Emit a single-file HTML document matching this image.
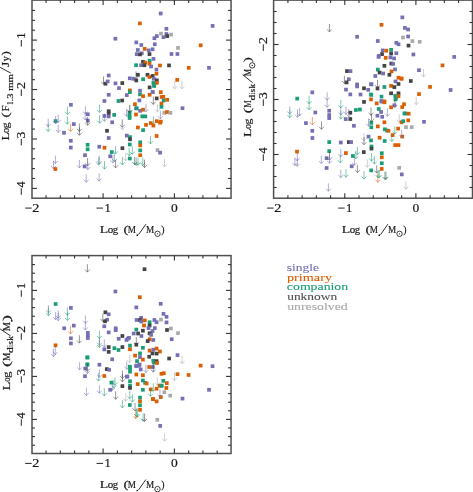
<!DOCTYPE html>
<html><head><meta charset="utf-8"><style>html,body{margin:0;padding:0;background:#fff;width:473px;height:492px;overflow:hidden}svg{display:block;will-change:transform}</style></head>
<body><svg width="473" height="492" viewBox="0 0 473 492" font-family="Liberation Serif"><rect x="32" y="0.1" width="199.05" height="198.10" fill="none" stroke="#505050" stroke-width="1.5"/><line x1="46.06" y1="198.20" x2="46.06" y2="195.20" stroke="#333" stroke-width="1.1"/><line x1="46.06" y1="0.10" x2="46.06" y2="3.10" stroke="#333" stroke-width="1.1"/><line x1="60.32" y1="198.20" x2="60.32" y2="195.20" stroke="#333" stroke-width="1.1"/><line x1="60.32" y1="0.10" x2="60.32" y2="3.10" stroke="#333" stroke-width="1.1"/><line x1="74.58" y1="198.20" x2="74.58" y2="195.20" stroke="#333" stroke-width="1.1"/><line x1="74.58" y1="0.10" x2="74.58" y2="3.10" stroke="#333" stroke-width="1.1"/><line x1="88.84" y1="198.20" x2="88.84" y2="195.20" stroke="#333" stroke-width="1.1"/><line x1="88.84" y1="0.10" x2="88.84" y2="3.10" stroke="#333" stroke-width="1.1"/><line x1="103.10" y1="198.20" x2="103.10" y2="193.20" stroke="#333" stroke-width="1.1"/><line x1="103.10" y1="0.10" x2="103.10" y2="5.10" stroke="#333" stroke-width="1.1"/><line x1="117.36" y1="198.20" x2="117.36" y2="195.20" stroke="#333" stroke-width="1.1"/><line x1="117.36" y1="0.10" x2="117.36" y2="3.10" stroke="#333" stroke-width="1.1"/><line x1="131.62" y1="198.20" x2="131.62" y2="195.20" stroke="#333" stroke-width="1.1"/><line x1="131.62" y1="0.10" x2="131.62" y2="3.10" stroke="#333" stroke-width="1.1"/><line x1="145.88" y1="198.20" x2="145.88" y2="195.20" stroke="#333" stroke-width="1.1"/><line x1="145.88" y1="0.10" x2="145.88" y2="3.10" stroke="#333" stroke-width="1.1"/><line x1="160.14" y1="198.20" x2="160.14" y2="195.20" stroke="#333" stroke-width="1.1"/><line x1="160.14" y1="0.10" x2="160.14" y2="3.10" stroke="#333" stroke-width="1.1"/><line x1="174.40" y1="198.20" x2="174.40" y2="193.20" stroke="#333" stroke-width="1.1"/><line x1="174.40" y1="0.10" x2="174.40" y2="5.10" stroke="#333" stroke-width="1.1"/><line x1="188.66" y1="198.20" x2="188.66" y2="195.20" stroke="#333" stroke-width="1.1"/><line x1="188.66" y1="0.10" x2="188.66" y2="3.10" stroke="#333" stroke-width="1.1"/><line x1="202.92" y1="198.20" x2="202.92" y2="195.20" stroke="#333" stroke-width="1.1"/><line x1="202.92" y1="0.10" x2="202.92" y2="3.10" stroke="#333" stroke-width="1.1"/><line x1="217.18" y1="198.20" x2="217.18" y2="195.20" stroke="#333" stroke-width="1.1"/><line x1="217.18" y1="0.10" x2="217.18" y2="3.10" stroke="#333" stroke-width="1.1"/><line x1="32.00" y1="188.39" x2="37.00" y2="188.39" stroke="#333" stroke-width="1.1"/><line x1="231.05" y1="188.39" x2="226.05" y2="188.39" stroke="#333" stroke-width="1.1"/><line x1="32.00" y1="178.50" x2="35.00" y2="178.50" stroke="#333" stroke-width="1.1"/><line x1="231.05" y1="178.50" x2="228.05" y2="178.50" stroke="#333" stroke-width="1.1"/><line x1="32.00" y1="168.62" x2="35.00" y2="168.62" stroke="#333" stroke-width="1.1"/><line x1="231.05" y1="168.62" x2="228.05" y2="168.62" stroke="#333" stroke-width="1.1"/><line x1="32.00" y1="158.73" x2="35.00" y2="158.73" stroke="#333" stroke-width="1.1"/><line x1="231.05" y1="158.73" x2="228.05" y2="158.73" stroke="#333" stroke-width="1.1"/><line x1="32.00" y1="148.85" x2="35.00" y2="148.85" stroke="#333" stroke-width="1.1"/><line x1="231.05" y1="148.85" x2="228.05" y2="148.85" stroke="#333" stroke-width="1.1"/><line x1="32.00" y1="138.96" x2="37.00" y2="138.96" stroke="#333" stroke-width="1.1"/><line x1="231.05" y1="138.96" x2="226.05" y2="138.96" stroke="#333" stroke-width="1.1"/><line x1="32.00" y1="129.07" x2="35.00" y2="129.07" stroke="#333" stroke-width="1.1"/><line x1="231.05" y1="129.07" x2="228.05" y2="129.07" stroke="#333" stroke-width="1.1"/><line x1="32.00" y1="119.19" x2="35.00" y2="119.19" stroke="#333" stroke-width="1.1"/><line x1="231.05" y1="119.19" x2="228.05" y2="119.19" stroke="#333" stroke-width="1.1"/><line x1="32.00" y1="109.30" x2="35.00" y2="109.30" stroke="#333" stroke-width="1.1"/><line x1="231.05" y1="109.30" x2="228.05" y2="109.30" stroke="#333" stroke-width="1.1"/><line x1="32.00" y1="99.42" x2="35.00" y2="99.42" stroke="#333" stroke-width="1.1"/><line x1="231.05" y1="99.42" x2="228.05" y2="99.42" stroke="#333" stroke-width="1.1"/><line x1="32.00" y1="89.53" x2="37.00" y2="89.53" stroke="#333" stroke-width="1.1"/><line x1="231.05" y1="89.53" x2="226.05" y2="89.53" stroke="#333" stroke-width="1.1"/><line x1="32.00" y1="79.64" x2="35.00" y2="79.64" stroke="#333" stroke-width="1.1"/><line x1="231.05" y1="79.64" x2="228.05" y2="79.64" stroke="#333" stroke-width="1.1"/><line x1="32.00" y1="69.76" x2="35.00" y2="69.76" stroke="#333" stroke-width="1.1"/><line x1="231.05" y1="69.76" x2="228.05" y2="69.76" stroke="#333" stroke-width="1.1"/><line x1="32.00" y1="59.87" x2="35.00" y2="59.87" stroke="#333" stroke-width="1.1"/><line x1="231.05" y1="59.87" x2="228.05" y2="59.87" stroke="#333" stroke-width="1.1"/><line x1="32.00" y1="49.99" x2="35.00" y2="49.99" stroke="#333" stroke-width="1.1"/><line x1="231.05" y1="49.99" x2="228.05" y2="49.99" stroke="#333" stroke-width="1.1"/><line x1="32.00" y1="40.10" x2="37.00" y2="40.10" stroke="#333" stroke-width="1.1"/><line x1="231.05" y1="40.10" x2="226.05" y2="40.10" stroke="#333" stroke-width="1.1"/><line x1="32.00" y1="30.21" x2="35.00" y2="30.21" stroke="#333" stroke-width="1.1"/><line x1="231.05" y1="30.21" x2="228.05" y2="30.21" stroke="#333" stroke-width="1.1"/><line x1="32.00" y1="20.33" x2="35.00" y2="20.33" stroke="#333" stroke-width="1.1"/><line x1="231.05" y1="20.33" x2="228.05" y2="20.33" stroke="#333" stroke-width="1.1"/><line x1="32.00" y1="10.44" x2="35.00" y2="10.44" stroke="#333" stroke-width="1.1"/><line x1="231.05" y1="10.44" x2="228.05" y2="10.44" stroke="#333" stroke-width="1.1"/><rect x="273.6" y="0.1" width="198.90" height="198.10" fill="none" stroke="#505050" stroke-width="1.5"/><line x1="287.92" y1="198.20" x2="287.92" y2="195.20" stroke="#333" stroke-width="1.1"/><line x1="287.92" y1="0.10" x2="287.92" y2="3.10" stroke="#333" stroke-width="1.1"/><line x1="302.14" y1="198.20" x2="302.14" y2="195.20" stroke="#333" stroke-width="1.1"/><line x1="302.14" y1="0.10" x2="302.14" y2="3.10" stroke="#333" stroke-width="1.1"/><line x1="316.36" y1="198.20" x2="316.36" y2="195.20" stroke="#333" stroke-width="1.1"/><line x1="316.36" y1="0.10" x2="316.36" y2="3.10" stroke="#333" stroke-width="1.1"/><line x1="330.58" y1="198.20" x2="330.58" y2="195.20" stroke="#333" stroke-width="1.1"/><line x1="330.58" y1="0.10" x2="330.58" y2="3.10" stroke="#333" stroke-width="1.1"/><line x1="344.80" y1="198.20" x2="344.80" y2="193.20" stroke="#333" stroke-width="1.1"/><line x1="344.80" y1="0.10" x2="344.80" y2="5.10" stroke="#333" stroke-width="1.1"/><line x1="359.02" y1="198.20" x2="359.02" y2="195.20" stroke="#333" stroke-width="1.1"/><line x1="359.02" y1="0.10" x2="359.02" y2="3.10" stroke="#333" stroke-width="1.1"/><line x1="373.24" y1="198.20" x2="373.24" y2="195.20" stroke="#333" stroke-width="1.1"/><line x1="373.24" y1="0.10" x2="373.24" y2="3.10" stroke="#333" stroke-width="1.1"/><line x1="387.46" y1="198.20" x2="387.46" y2="195.20" stroke="#333" stroke-width="1.1"/><line x1="387.46" y1="0.10" x2="387.46" y2="3.10" stroke="#333" stroke-width="1.1"/><line x1="401.68" y1="198.20" x2="401.68" y2="195.20" stroke="#333" stroke-width="1.1"/><line x1="401.68" y1="0.10" x2="401.68" y2="3.10" stroke="#333" stroke-width="1.1"/><line x1="415.90" y1="198.20" x2="415.90" y2="193.20" stroke="#333" stroke-width="1.1"/><line x1="415.90" y1="0.10" x2="415.90" y2="5.10" stroke="#333" stroke-width="1.1"/><line x1="430.12" y1="198.20" x2="430.12" y2="195.20" stroke="#333" stroke-width="1.1"/><line x1="430.12" y1="0.10" x2="430.12" y2="3.10" stroke="#333" stroke-width="1.1"/><line x1="444.34" y1="198.20" x2="444.34" y2="195.20" stroke="#333" stroke-width="1.1"/><line x1="444.34" y1="0.10" x2="444.34" y2="3.10" stroke="#333" stroke-width="1.1"/><line x1="458.56" y1="198.20" x2="458.56" y2="195.20" stroke="#333" stroke-width="1.1"/><line x1="458.56" y1="0.10" x2="458.56" y2="3.10" stroke="#333" stroke-width="1.1"/><line x1="273.60" y1="187.50" x2="276.60" y2="187.50" stroke="#333" stroke-width="1.1"/><line x1="472.50" y1="187.50" x2="469.50" y2="187.50" stroke="#333" stroke-width="1.1"/><line x1="273.60" y1="176.50" x2="276.60" y2="176.50" stroke="#333" stroke-width="1.1"/><line x1="472.50" y1="176.50" x2="469.50" y2="176.50" stroke="#333" stroke-width="1.1"/><line x1="273.60" y1="165.50" x2="276.60" y2="165.50" stroke="#333" stroke-width="1.1"/><line x1="472.50" y1="165.50" x2="469.50" y2="165.50" stroke="#333" stroke-width="1.1"/><line x1="273.60" y1="154.50" x2="278.60" y2="154.50" stroke="#333" stroke-width="1.1"/><line x1="472.50" y1="154.50" x2="467.50" y2="154.50" stroke="#333" stroke-width="1.1"/><line x1="273.60" y1="143.50" x2="276.60" y2="143.50" stroke="#333" stroke-width="1.1"/><line x1="472.50" y1="143.50" x2="469.50" y2="143.50" stroke="#333" stroke-width="1.1"/><line x1="273.60" y1="132.50" x2="276.60" y2="132.50" stroke="#333" stroke-width="1.1"/><line x1="472.50" y1="132.50" x2="469.50" y2="132.50" stroke="#333" stroke-width="1.1"/><line x1="273.60" y1="121.50" x2="276.60" y2="121.50" stroke="#333" stroke-width="1.1"/><line x1="472.50" y1="121.50" x2="469.50" y2="121.50" stroke="#333" stroke-width="1.1"/><line x1="273.60" y1="110.50" x2="276.60" y2="110.50" stroke="#333" stroke-width="1.1"/><line x1="472.50" y1="110.50" x2="469.50" y2="110.50" stroke="#333" stroke-width="1.1"/><line x1="273.60" y1="99.50" x2="278.60" y2="99.50" stroke="#333" stroke-width="1.1"/><line x1="472.50" y1="99.50" x2="467.50" y2="99.50" stroke="#333" stroke-width="1.1"/><line x1="273.60" y1="88.50" x2="276.60" y2="88.50" stroke="#333" stroke-width="1.1"/><line x1="472.50" y1="88.50" x2="469.50" y2="88.50" stroke="#333" stroke-width="1.1"/><line x1="273.60" y1="77.50" x2="276.60" y2="77.50" stroke="#333" stroke-width="1.1"/><line x1="472.50" y1="77.50" x2="469.50" y2="77.50" stroke="#333" stroke-width="1.1"/><line x1="273.60" y1="66.50" x2="276.60" y2="66.50" stroke="#333" stroke-width="1.1"/><line x1="472.50" y1="66.50" x2="469.50" y2="66.50" stroke="#333" stroke-width="1.1"/><line x1="273.60" y1="55.50" x2="276.60" y2="55.50" stroke="#333" stroke-width="1.1"/><line x1="472.50" y1="55.50" x2="469.50" y2="55.50" stroke="#333" stroke-width="1.1"/><line x1="273.60" y1="44.50" x2="278.60" y2="44.50" stroke="#333" stroke-width="1.1"/><line x1="472.50" y1="44.50" x2="467.50" y2="44.50" stroke="#333" stroke-width="1.1"/><line x1="273.60" y1="33.50" x2="276.60" y2="33.50" stroke="#333" stroke-width="1.1"/><line x1="472.50" y1="33.50" x2="469.50" y2="33.50" stroke="#333" stroke-width="1.1"/><line x1="273.60" y1="22.50" x2="276.60" y2="22.50" stroke="#333" stroke-width="1.1"/><line x1="472.50" y1="22.50" x2="469.50" y2="22.50" stroke="#333" stroke-width="1.1"/><line x1="273.60" y1="11.50" x2="276.60" y2="11.50" stroke="#333" stroke-width="1.1"/><line x1="472.50" y1="11.50" x2="469.50" y2="11.50" stroke="#333" stroke-width="1.1"/><rect x="32" y="255.6" width="199.05" height="197.90" fill="none" stroke="#505050" stroke-width="1.5"/><line x1="46.06" y1="453.50" x2="46.06" y2="450.50" stroke="#333" stroke-width="1.1"/><line x1="46.06" y1="255.60" x2="46.06" y2="258.60" stroke="#333" stroke-width="1.1"/><line x1="60.32" y1="453.50" x2="60.32" y2="450.50" stroke="#333" stroke-width="1.1"/><line x1="60.32" y1="255.60" x2="60.32" y2="258.60" stroke="#333" stroke-width="1.1"/><line x1="74.58" y1="453.50" x2="74.58" y2="450.50" stroke="#333" stroke-width="1.1"/><line x1="74.58" y1="255.60" x2="74.58" y2="258.60" stroke="#333" stroke-width="1.1"/><line x1="88.84" y1="453.50" x2="88.84" y2="450.50" stroke="#333" stroke-width="1.1"/><line x1="88.84" y1="255.60" x2="88.84" y2="258.60" stroke="#333" stroke-width="1.1"/><line x1="103.10" y1="453.50" x2="103.10" y2="448.50" stroke="#333" stroke-width="1.1"/><line x1="103.10" y1="255.60" x2="103.10" y2="260.60" stroke="#333" stroke-width="1.1"/><line x1="117.36" y1="453.50" x2="117.36" y2="450.50" stroke="#333" stroke-width="1.1"/><line x1="117.36" y1="255.60" x2="117.36" y2="258.60" stroke="#333" stroke-width="1.1"/><line x1="131.62" y1="453.50" x2="131.62" y2="450.50" stroke="#333" stroke-width="1.1"/><line x1="131.62" y1="255.60" x2="131.62" y2="258.60" stroke="#333" stroke-width="1.1"/><line x1="145.88" y1="453.50" x2="145.88" y2="450.50" stroke="#333" stroke-width="1.1"/><line x1="145.88" y1="255.60" x2="145.88" y2="258.60" stroke="#333" stroke-width="1.1"/><line x1="160.14" y1="453.50" x2="160.14" y2="450.50" stroke="#333" stroke-width="1.1"/><line x1="160.14" y1="255.60" x2="160.14" y2="258.60" stroke="#333" stroke-width="1.1"/><line x1="174.40" y1="453.50" x2="174.40" y2="448.50" stroke="#333" stroke-width="1.1"/><line x1="174.40" y1="255.60" x2="174.40" y2="260.60" stroke="#333" stroke-width="1.1"/><line x1="188.66" y1="453.50" x2="188.66" y2="450.50" stroke="#333" stroke-width="1.1"/><line x1="188.66" y1="255.60" x2="188.66" y2="258.60" stroke="#333" stroke-width="1.1"/><line x1="202.92" y1="453.50" x2="202.92" y2="450.50" stroke="#333" stroke-width="1.1"/><line x1="202.92" y1="255.60" x2="202.92" y2="258.60" stroke="#333" stroke-width="1.1"/><line x1="217.18" y1="453.50" x2="217.18" y2="450.50" stroke="#333" stroke-width="1.1"/><line x1="217.18" y1="255.60" x2="217.18" y2="258.60" stroke="#333" stroke-width="1.1"/><line x1="32.00" y1="445.20" x2="35.00" y2="445.20" stroke="#333" stroke-width="1.1"/><line x1="231.05" y1="445.20" x2="228.05" y2="445.20" stroke="#333" stroke-width="1.1"/><line x1="32.00" y1="436.60" x2="35.00" y2="436.60" stroke="#333" stroke-width="1.1"/><line x1="231.05" y1="436.60" x2="228.05" y2="436.60" stroke="#333" stroke-width="1.1"/><line x1="32.00" y1="428.00" x2="35.00" y2="428.00" stroke="#333" stroke-width="1.1"/><line x1="231.05" y1="428.00" x2="228.05" y2="428.00" stroke="#333" stroke-width="1.1"/><line x1="32.00" y1="419.40" x2="37.00" y2="419.40" stroke="#333" stroke-width="1.1"/><line x1="231.05" y1="419.40" x2="226.05" y2="419.40" stroke="#333" stroke-width="1.1"/><line x1="32.00" y1="410.80" x2="35.00" y2="410.80" stroke="#333" stroke-width="1.1"/><line x1="231.05" y1="410.80" x2="228.05" y2="410.80" stroke="#333" stroke-width="1.1"/><line x1="32.00" y1="402.20" x2="35.00" y2="402.20" stroke="#333" stroke-width="1.1"/><line x1="231.05" y1="402.20" x2="228.05" y2="402.20" stroke="#333" stroke-width="1.1"/><line x1="32.00" y1="393.60" x2="35.00" y2="393.60" stroke="#333" stroke-width="1.1"/><line x1="231.05" y1="393.60" x2="228.05" y2="393.60" stroke="#333" stroke-width="1.1"/><line x1="32.00" y1="385.00" x2="35.00" y2="385.00" stroke="#333" stroke-width="1.1"/><line x1="231.05" y1="385.00" x2="228.05" y2="385.00" stroke="#333" stroke-width="1.1"/><line x1="32.00" y1="376.40" x2="37.00" y2="376.40" stroke="#333" stroke-width="1.1"/><line x1="231.05" y1="376.40" x2="226.05" y2="376.40" stroke="#333" stroke-width="1.1"/><line x1="32.00" y1="367.80" x2="35.00" y2="367.80" stroke="#333" stroke-width="1.1"/><line x1="231.05" y1="367.80" x2="228.05" y2="367.80" stroke="#333" stroke-width="1.1"/><line x1="32.00" y1="359.20" x2="35.00" y2="359.20" stroke="#333" stroke-width="1.1"/><line x1="231.05" y1="359.20" x2="228.05" y2="359.20" stroke="#333" stroke-width="1.1"/><line x1="32.00" y1="350.60" x2="35.00" y2="350.60" stroke="#333" stroke-width="1.1"/><line x1="231.05" y1="350.60" x2="228.05" y2="350.60" stroke="#333" stroke-width="1.1"/><line x1="32.00" y1="342.00" x2="35.00" y2="342.00" stroke="#333" stroke-width="1.1"/><line x1="231.05" y1="342.00" x2="228.05" y2="342.00" stroke="#333" stroke-width="1.1"/><line x1="32.00" y1="333.40" x2="37.00" y2="333.40" stroke="#333" stroke-width="1.1"/><line x1="231.05" y1="333.40" x2="226.05" y2="333.40" stroke="#333" stroke-width="1.1"/><line x1="32.00" y1="324.80" x2="35.00" y2="324.80" stroke="#333" stroke-width="1.1"/><line x1="231.05" y1="324.80" x2="228.05" y2="324.80" stroke="#333" stroke-width="1.1"/><line x1="32.00" y1="316.20" x2="35.00" y2="316.20" stroke="#333" stroke-width="1.1"/><line x1="231.05" y1="316.20" x2="228.05" y2="316.20" stroke="#333" stroke-width="1.1"/><line x1="32.00" y1="307.60" x2="35.00" y2="307.60" stroke="#333" stroke-width="1.1"/><line x1="231.05" y1="307.60" x2="228.05" y2="307.60" stroke="#333" stroke-width="1.1"/><line x1="32.00" y1="299.00" x2="35.00" y2="299.00" stroke="#333" stroke-width="1.1"/><line x1="231.05" y1="299.00" x2="228.05" y2="299.00" stroke="#333" stroke-width="1.1"/><line x1="32.00" y1="290.40" x2="37.00" y2="290.40" stroke="#333" stroke-width="1.1"/><line x1="231.05" y1="290.40" x2="226.05" y2="290.40" stroke="#333" stroke-width="1.1"/><line x1="32.00" y1="281.80" x2="35.00" y2="281.80" stroke="#333" stroke-width="1.1"/><line x1="231.05" y1="281.80" x2="228.05" y2="281.80" stroke="#333" stroke-width="1.1"/><line x1="32.00" y1="273.20" x2="35.00" y2="273.20" stroke="#333" stroke-width="1.1"/><line x1="231.05" y1="273.20" x2="228.05" y2="273.20" stroke="#333" stroke-width="1.1"/><line x1="32.00" y1="264.60" x2="35.00" y2="264.60" stroke="#333" stroke-width="1.1"/><line x1="231.05" y1="264.60" x2="228.05" y2="264.60" stroke="#333" stroke-width="1.1"/><text transform="translate(99.70 232.90) scale(1.234 1.0)" font-size="11.2" fill="#1a1a1a" stroke="#1a1a1a" stroke-width="0.2">L</text><text transform="translate(107.68 232.90) scale(0.992 1.0)" font-size="11.2" fill="#1a1a1a" stroke="#1a1a1a" stroke-width="0.2">o</text><text transform="translate(112.74 232.90) scale(0.960 1.0)" font-size="11.2" fill="#1a1a1a" stroke="#1a1a1a" stroke-width="0.2">g</text><text transform="translate(123.55 232.90) scale(1.325 1.0)" font-size="11.2" fill="#1a1a1a" stroke="#1a1a1a" stroke-width="0.2">(</text><text transform="translate(127.83 232.90) scale(0.818 1.0)" font-size="11.2" fill="#1a1a1a" stroke="#1a1a1a" stroke-width="0.2">M</text><text transform="translate(146.03 232.90) scale(0.818 1.0)" font-size="11.2" fill="#1a1a1a" stroke="#1a1a1a" stroke-width="0.2">M</text><text transform="translate(161.19 232.90) scale(0.872 1.0)" font-size="11.2" fill="#1a1a1a" stroke="#1a1a1a" stroke-width="0.2">)</text><circle cx="137.3" cy="235.2" r="0.85" fill="#1a1a1a"/><line x1="138.60" y1="234.60" x2="145.90" y2="224.20" stroke="#1a1a1a" stroke-width="0.9"/><circle cx="157.5" cy="233.8" r="2.7" fill="none" stroke="#1a1a1a" stroke-width="0.85"/><circle cx="157.5" cy="233.8" r="0.65" fill="#1a1a1a"/><text transform="translate(341.70 232.90) scale(1.234 1.0)" font-size="11.2" fill="#1a1a1a" stroke="#1a1a1a" stroke-width="0.2">L</text><text transform="translate(349.68 232.90) scale(0.992 1.0)" font-size="11.2" fill="#1a1a1a" stroke="#1a1a1a" stroke-width="0.2">o</text><text transform="translate(354.74 232.90) scale(0.960 1.0)" font-size="11.2" fill="#1a1a1a" stroke="#1a1a1a" stroke-width="0.2">g</text><text transform="translate(365.55 232.90) scale(1.325 1.0)" font-size="11.2" fill="#1a1a1a" stroke="#1a1a1a" stroke-width="0.2">(</text><text transform="translate(369.83 232.90) scale(0.818 1.0)" font-size="11.2" fill="#1a1a1a" stroke="#1a1a1a" stroke-width="0.2">M</text><text transform="translate(388.03 232.90) scale(0.818 1.0)" font-size="11.2" fill="#1a1a1a" stroke="#1a1a1a" stroke-width="0.2">M</text><text transform="translate(403.19 232.90) scale(0.872 1.0)" font-size="11.2" fill="#1a1a1a" stroke="#1a1a1a" stroke-width="0.2">)</text><circle cx="379.3" cy="235.2" r="0.85" fill="#1a1a1a"/><line x1="380.60" y1="234.60" x2="387.90" y2="224.20" stroke="#1a1a1a" stroke-width="0.9"/><circle cx="399.5" cy="233.8" r="2.7" fill="none" stroke="#1a1a1a" stroke-width="0.85"/><circle cx="399.5" cy="233.8" r="0.65" fill="#1a1a1a"/><text transform="translate(99.70 488.20) scale(1.234 1.0)" font-size="11.2" fill="#1a1a1a" stroke="#1a1a1a" stroke-width="0.2">L</text><text transform="translate(107.68 488.20) scale(0.992 1.0)" font-size="11.2" fill="#1a1a1a" stroke="#1a1a1a" stroke-width="0.2">o</text><text transform="translate(112.74 488.20) scale(0.960 1.0)" font-size="11.2" fill="#1a1a1a" stroke="#1a1a1a" stroke-width="0.2">g</text><text transform="translate(123.55 488.20) scale(1.325 1.0)" font-size="11.2" fill="#1a1a1a" stroke="#1a1a1a" stroke-width="0.2">(</text><text transform="translate(127.83 488.20) scale(0.818 1.0)" font-size="11.2" fill="#1a1a1a" stroke="#1a1a1a" stroke-width="0.2">M</text><text transform="translate(146.03 488.20) scale(0.818 1.0)" font-size="11.2" fill="#1a1a1a" stroke="#1a1a1a" stroke-width="0.2">M</text><text transform="translate(161.19 488.20) scale(0.872 1.0)" font-size="11.2" fill="#1a1a1a" stroke="#1a1a1a" stroke-width="0.2">)</text><circle cx="137.3" cy="490.5" r="0.85" fill="#1a1a1a"/><line x1="138.60" y1="489.90" x2="145.90" y2="479.50" stroke="#1a1a1a" stroke-width="0.9"/><circle cx="157.5" cy="489.1" r="2.7" fill="none" stroke="#1a1a1a" stroke-width="0.85"/><circle cx="157.5" cy="489.1" r="0.65" fill="#1a1a1a"/><rect x="25.20" y="207.60" width="6.5" height="0.95" fill="#1a1a1a"/><text transform="translate(32.27 211.60) scale(1.239 1.0)" font-size="11.5" fill="#1a1a1a" stroke="#1a1a1a" stroke-width="0.2">2</text><rect x="96.50" y="207.60" width="6.5" height="0.95" fill="#1a1a1a"/><text transform="translate(104.40 211.60) scale(1.090 1.0)" font-size="11.5" fill="#1a1a1a" stroke="#1a1a1a" stroke-width="0.2">1</text><text transform="translate(171.09 211.60) scale(1.172 1.0)" font-size="11.5" fill="#1a1a1a" stroke="#1a1a1a" stroke-width="0.2">0</text><rect x="20.80" y="40.00" width="0.95" height="6.5" fill="#1a1a1a"/><text transform="rotate(-90) translate(-38.80 24.90) scale(1.090 1.0)" font-size="11.5" fill="#1a1a1a" stroke="#1a1a1a" stroke-width="0.2">1</text><rect x="20.80" y="89.43" width="0.95" height="6.5" fill="#1a1a1a"/><text transform="rotate(-90) translate(-88.95 24.90) scale(1.217 1.0)" font-size="11.5" fill="#1a1a1a" stroke="#1a1a1a" stroke-width="0.2">2</text><rect x="20.80" y="138.86" width="0.95" height="6.5" fill="#1a1a1a"/><text transform="rotate(-90) translate(-138.41 24.90) scale(1.182 1.0)" font-size="11.5" fill="#1a1a1a" stroke="#1a1a1a" stroke-width="0.2">3</text><rect x="20.80" y="188.29" width="0.95" height="6.5" fill="#1a1a1a"/><text transform="rotate(-90) translate(-187.43 24.90) scale(1.052 1.0)" font-size="11.5" fill="#1a1a1a" stroke="#1a1a1a" stroke-width="0.2">4</text><rect x="267.10" y="207.60" width="6.5" height="0.95" fill="#1a1a1a"/><text transform="translate(274.17 211.60) scale(1.239 1.0)" font-size="11.5" fill="#1a1a1a" stroke="#1a1a1a" stroke-width="0.2">2</text><rect x="338.20" y="207.60" width="6.5" height="0.95" fill="#1a1a1a"/><text transform="translate(346.10 211.60) scale(1.090 1.0)" font-size="11.5" fill="#1a1a1a" stroke="#1a1a1a" stroke-width="0.2">1</text><text transform="translate(412.59 211.60) scale(1.172 1.0)" font-size="11.5" fill="#1a1a1a" stroke="#1a1a1a" stroke-width="0.2">0</text><rect x="262.80" y="44.40" width="0.95" height="6.5" fill="#1a1a1a"/><text transform="rotate(-90) translate(-43.92 266.90) scale(1.217 1.0)" font-size="11.5" fill="#1a1a1a" stroke="#1a1a1a" stroke-width="0.2">2</text><rect x="262.80" y="99.40" width="0.95" height="6.5" fill="#1a1a1a"/><text transform="rotate(-90) translate(-98.95 266.90) scale(1.182 1.0)" font-size="11.5" fill="#1a1a1a" stroke="#1a1a1a" stroke-width="0.2">3</text><rect x="262.80" y="154.40" width="0.95" height="6.5" fill="#1a1a1a"/><text transform="rotate(-90) translate(-153.54 266.90) scale(1.052 1.0)" font-size="11.5" fill="#1a1a1a" stroke="#1a1a1a" stroke-width="0.2">4</text><rect x="25.20" y="462.90" width="6.5" height="0.95" fill="#1a1a1a"/><text transform="translate(32.27 466.90) scale(1.239 1.0)" font-size="11.5" fill="#1a1a1a" stroke="#1a1a1a" stroke-width="0.2">2</text><rect x="96.50" y="462.90" width="6.5" height="0.95" fill="#1a1a1a"/><text transform="translate(104.40 466.90) scale(1.090 1.0)" font-size="11.5" fill="#1a1a1a" stroke="#1a1a1a" stroke-width="0.2">1</text><text transform="translate(171.09 466.90) scale(1.172 1.0)" font-size="11.5" fill="#1a1a1a" stroke="#1a1a1a" stroke-width="0.2">0</text><rect x="20.80" y="290.30" width="0.95" height="6.5" fill="#1a1a1a"/><text transform="rotate(-90) translate(-289.10 24.90) scale(1.090 1.0)" font-size="11.5" fill="#1a1a1a" stroke="#1a1a1a" stroke-width="0.2">1</text><rect x="20.80" y="333.30" width="0.95" height="6.5" fill="#1a1a1a"/><text transform="rotate(-90) translate(-332.82 24.90) scale(1.217 1.0)" font-size="11.5" fill="#1a1a1a" stroke="#1a1a1a" stroke-width="0.2">2</text><rect x="20.80" y="376.30" width="0.95" height="6.5" fill="#1a1a1a"/><text transform="rotate(-90) translate(-375.85 24.90) scale(1.182 1.0)" font-size="11.5" fill="#1a1a1a" stroke="#1a1a1a" stroke-width="0.2">3</text><rect x="20.80" y="419.30" width="0.95" height="6.5" fill="#1a1a1a"/><text transform="rotate(-90) translate(-418.44 24.90) scale(1.052 1.0)" font-size="11.5" fill="#1a1a1a" stroke="#1a1a1a" stroke-width="0.2">4</text><text transform="rotate(-90) translate(-140.58 9.00) scale(1.182 1.0)" font-size="11.2" fill="#1a1a1a" stroke="#1a1a1a" stroke-width="0.2">L</text><text transform="rotate(-90) translate(-132.89 9.00) scale(0.908 1.0)" font-size="11.2" fill="#1a1a1a" stroke="#1a1a1a" stroke-width="0.2">o</text><text transform="rotate(-90) translate(-128.53 9.00) scale(1.103 1.0)" font-size="11.2" fill="#1a1a1a" stroke="#1a1a1a" stroke-width="0.2">g</text><text transform="rotate(-90) translate(-117.84 9.00) scale(1.500 1.0)" font-size="11.2" fill="#1a1a1a" stroke="#1a1a1a" stroke-width="0.2">(</text><text transform="rotate(-90) translate(-111.43 9.00) scale(1.002 1.0)" font-size="11.2" fill="#1a1a1a" stroke="#1a1a1a" stroke-width="0.2">F</text><text transform="rotate(-90) translate(-104.75 12.80) scale(0.746 1.0)" font-size="8.4" fill="#1a1a1a" stroke="#1a1a1a" stroke-width="0.2">1</text><text transform="rotate(-90) translate(-101.16 12.80) scale(1.018 1.0)" font-size="8.4" fill="#1a1a1a" stroke="#1a1a1a" stroke-width="0.2">.</text><text transform="rotate(-90) translate(-98.70 12.80) scale(1.242 1.0)" font-size="8.4" fill="#1a1a1a" stroke="#1a1a1a" stroke-width="0.2">3</text><text transform="rotate(-90) translate(-90.72 12.80) scale(1.271 1.0)" font-size="8.4" fill="#1a1a1a" stroke="#1a1a1a" stroke-width="0.2">m</text><text transform="rotate(-90) translate(-82.53 12.80) scale(1.287 1.0)" font-size="8.4" fill="#1a1a1a" stroke="#1a1a1a" stroke-width="0.2">m</text><text transform="rotate(-90) translate(-67.08 9.00) scale(1.187 1.0)" font-size="11.2" fill="#1a1a1a" stroke="#1a1a1a" stroke-width="0.2">J</text><text transform="rotate(-90) translate(-61.53 9.00) scale(0.998 1.0)" font-size="11.2" fill="#1a1a1a" stroke="#1a1a1a" stroke-width="0.2">y</text><text transform="rotate(-90) translate(-55.52 9.00) scale(1.186 1.0)" font-size="11.2" fill="#1a1a1a" stroke="#1a1a1a" stroke-width="0.2">)</text><line x1="10.80" y1="73.10" x2="0.20" y2="67.40" stroke="#1a1a1a" stroke-width="0.9"/><text transform="rotate(-90) translate(-137.01 250.50) scale(1.251 1.0)" font-size="11.2" fill="#1a1a1a" stroke="#1a1a1a" stroke-width="0.2">L</text><text transform="rotate(-90) translate(-128.77 250.50) scale(0.865 1.0)" font-size="11.2" fill="#1a1a1a" stroke="#1a1a1a" stroke-width="0.2">o</text><text transform="rotate(-90) translate(-124.51 250.50) scale(1.062 1.0)" font-size="11.2" fill="#1a1a1a" stroke="#1a1a1a" stroke-width="0.2">g</text><text transform="rotate(-90) translate(-113.57 250.50) scale(1.569 1.0)" font-size="11.2" fill="#1a1a1a" stroke="#1a1a1a" stroke-width="0.2">(</text><text transform="rotate(-90) translate(-107.64 250.50) scale(0.753 1.0)" font-size="11.2" fill="#1a1a1a" stroke="#1a1a1a" stroke-width="0.2">M</text><text transform="rotate(-90) translate(-100.62 254.60) scale(1.399 1.0)" font-size="8.4" fill="#1a1a1a" stroke="#1a1a1a" stroke-width="0.2">d</text><text transform="rotate(-90) translate(-94.19 254.60) scale(0.502 1.0)" font-size="8.4" fill="#1a1a1a" stroke="#1a1a1a" stroke-width="0.2">i</text><text transform="rotate(-90) translate(-92.38 254.60) scale(1.110 1.0)" font-size="8.4" fill="#1a1a1a" stroke="#1a1a1a" stroke-width="0.2">s</text><text transform="rotate(-90) translate(-88.48 254.60) scale(1.116 1.0)" font-size="8.4" fill="#1a1a1a" stroke="#1a1a1a" stroke-width="0.2">k</text><text transform="rotate(-90) translate(-76.14 250.50) scale(0.731 1.0)" font-size="11.2" fill="#1a1a1a" stroke="#1a1a1a" stroke-width="0.2">M</text><text transform="rotate(-90) translate(-62.29 250.50) scale(1.360 1.0)" font-size="11.2" fill="#1a1a1a" stroke="#1a1a1a" stroke-width="0.2">)</text><line x1="252.70" y1="82.80" x2="242.60" y2="74.60" stroke="#1a1a1a" stroke-width="0.9"/><circle cx="252.2" cy="65.4" r="2.7" fill="none" stroke="#1a1a1a" stroke-width="0.85"/><circle cx="252.2" cy="65.4" r="0.65" fill="#1a1a1a"/><text transform="rotate(-90) translate(-390.52 9.70) scale(1.302 1.0)" font-size="11.2" fill="#1a1a1a" stroke="#1a1a1a" stroke-width="0.2">L</text><text transform="rotate(-90) translate(-381.82 9.70) scale(0.760 1.0)" font-size="11.2" fill="#1a1a1a" stroke="#1a1a1a" stroke-width="0.2">o</text><text transform="rotate(-90) translate(-378.06 9.70) scale(1.165 1.0)" font-size="11.2" fill="#1a1a1a" stroke="#1a1a1a" stroke-width="0.2">g</text><text transform="rotate(-90) translate(-367.09 9.70) scale(1.604 1.0)" font-size="11.2" fill="#1a1a1a" stroke="#1a1a1a" stroke-width="0.2">(</text><text transform="rotate(-90) translate(-360.97 9.70) scale(0.828 1.0)" font-size="11.2" fill="#1a1a1a" stroke="#1a1a1a" stroke-width="0.2">M</text><text transform="rotate(-90) translate(-352.92 12.90) scale(1.399 1.0)" font-size="8.4" fill="#1a1a1a" stroke="#1a1a1a" stroke-width="0.2">d</text><text transform="rotate(-90) translate(-346.49 12.90) scale(0.502 1.0)" font-size="8.4" fill="#1a1a1a" stroke="#1a1a1a" stroke-width="0.2">i</text><text transform="rotate(-90) translate(-344.68 12.90) scale(1.110 1.0)" font-size="8.4" fill="#1a1a1a" stroke="#1a1a1a" stroke-width="0.2">s</text><text transform="rotate(-90) translate(-340.78 12.90) scale(1.116 1.0)" font-size="8.4" fill="#1a1a1a" stroke="#1a1a1a" stroke-width="0.2">k</text><text transform="rotate(-90) translate(-331.30 9.70) scale(0.925 1.0)" font-size="11.2" fill="#1a1a1a" stroke="#1a1a1a" stroke-width="0.2">M</text><text transform="rotate(-90) translate(-320.89 9.70) scale(1.639 1.0)" font-size="11.2" fill="#1a1a1a" stroke="#1a1a1a" stroke-width="0.2">)</text><line x1="10.70" y1="336.00" x2="0.20" y2="329.00" stroke="#1a1a1a" stroke-width="0.9"/><circle cx="11.7" cy="320.9" r="0.85" fill="#1a1a1a"/><text x="286.75" y="270.7" font-size="11.0" fill="#7570b3" stroke="#7570b3" stroke-width="0.1" textLength="32.30" lengthAdjust="spacingAndGlyphs">single</text><text x="287.02" y="280.6" font-size="11.0" fill="#d95f02" stroke="#d95f02" stroke-width="0.1" textLength="45.00" lengthAdjust="spacingAndGlyphs">primary</text><text x="286.88" y="290.4" font-size="11.0" fill="#1b9e77" stroke="#1b9e77" stroke-width="0.1" textLength="61.30" lengthAdjust="spacingAndGlyphs">companion</text><text x="287.16" y="300.3" font-size="11.0" fill="#505050" stroke="#505050" stroke-width="0.1" textLength="50.10" lengthAdjust="spacingAndGlyphs">unknown</text><text x="287.16" y="310.2" font-size="11.0" fill="#a8a8a8" stroke="#a8a8a8" stroke-width="0.1" textLength="60.50" lengthAdjust="spacingAndGlyphs">unresolved</text><rect x="158.85" y="11.65" width="3.7" height="3.7" fill="#7570b3"/><rect x="138.05" y="21.55" width="3.7" height="3.7" fill="#d95f02"/><rect x="159.15" y="31.75" width="3.7" height="3.7" fill="#aaaaaa"/><rect x="154.95" y="34.25" width="3.7" height="3.7" fill="#7570b3"/><rect x="113.55" y="36.85" width="3.7" height="3.7" fill="#7570b3"/><rect x="152.55" y="36.35" width="3.7" height="3.7" fill="#7570b3"/><rect x="134.45" y="40.55" width="3.7" height="3.7" fill="#7570b3"/><rect x="139.45" y="43.15" width="3.7" height="3.7" fill="#7570b3"/><rect x="152.95" y="42.45" width="3.7" height="3.7" fill="#7570b3"/><rect x="142.85" y="47.05" width="3.7" height="3.7" fill="#d95f02"/><rect x="135.95" y="48.15" width="3.7" height="3.7" fill="#7570b3"/><rect x="146.85" y="48.55" width="3.7" height="3.7" fill="#7570b3"/><rect x="150.75" y="47.45" width="3.7" height="3.7" fill="#7570b3"/><rect x="134.85" y="52.35" width="3.7" height="3.7" fill="#7570b3"/><rect x="139.95" y="51.45" width="3.7" height="3.7" fill="#7570b3"/><rect x="138.15" y="52.55" width="3.7" height="3.7" fill="#444444"/><rect x="147.65" y="52.25" width="3.7" height="3.7" fill="#444444"/><rect x="151.65" y="57.05" width="3.7" height="3.7" fill="#7570b3"/><rect x="141.15" y="59.95" width="3.7" height="3.7" fill="#444444"/><rect x="143.35" y="60.75" width="3.7" height="3.7" fill="#d95f02"/><rect x="147.75" y="58.85" width="3.7" height="3.7" fill="#1b9e77"/><rect x="147.55" y="61.85" width="3.7" height="3.7" fill="#d95f02"/><rect x="134.25" y="63.35" width="3.7" height="3.7" fill="#1b9e77"/><rect x="139.25" y="63.35" width="3.7" height="3.7" fill="#7570b3"/><rect x="142.55" y="63.35" width="3.7" height="3.7" fill="#444444"/><rect x="149.25" y="64.65" width="3.7" height="3.7" fill="#7570b3"/><rect x="158.15" y="63.65" width="3.7" height="3.7" fill="#d95f02"/><rect x="210.75" y="24.05" width="3.7" height="3.7" fill="#7570b3"/><rect x="164.55" y="26.95" width="3.7" height="3.7" fill="#7570b3"/><rect x="164.55" y="32.15" width="3.7" height="3.7" fill="#7570b3"/><rect x="169.25" y="32.75" width="3.7" height="3.7" fill="#aaaaaa"/><rect x="161.65" y="35.35" width="3.7" height="3.7" fill="#7570b3"/><rect x="165.35" y="34.25" width="3.7" height="3.7" fill="#444444"/><rect x="198.85" y="43.45" width="3.7" height="3.7" fill="#d95f02"/><rect x="176.15" y="46.05" width="3.7" height="3.7" fill="#aaaaaa"/><rect x="169.65" y="52.15" width="3.7" height="3.7" fill="#7570b3"/><rect x="175.55" y="52.15" width="3.7" height="3.7" fill="#7570b3"/><rect x="167.15" y="63.55" width="3.7" height="3.7" fill="#444444"/><rect x="69.05" y="102.95" width="3.7" height="3.7" fill="#7570b3"/><path d="M67.4 106.70V114.60M65.00 112.00L67.4 114.60L69.80 112.00" fill="none" stroke="#1b9e77" stroke-width="0.7" stroke-opacity="0.8"/><path d="M67.4 116.30V124.20M65.00 121.60L67.4 124.20L69.80 121.60" fill="none" stroke="#1b9e77" stroke-width="0.7" stroke-opacity="0.8"/><path d="M85.4 106.20V114.10M83.00 111.50L85.4 114.10L87.80 111.50" fill="none" stroke="#7570b3" stroke-width="0.7" stroke-opacity="0.8"/><rect x="85.95" y="112.45" width="3.7" height="3.7" fill="#7570b3"/><path d="M85.2 112.00V119.90M82.80 117.30L85.2 119.90L87.60 117.30" fill="none" stroke="#7570b3" stroke-width="0.7" stroke-opacity="0.8"/><rect x="85.95" y="118.75" width="3.7" height="3.7" fill="#7570b3"/><path d="M87.6 117.40V125.30M85.20 122.70L87.6 125.30L90.00 122.70" fill="none" stroke="#444444" stroke-width="0.7" stroke-opacity="0.8"/><rect x="53.75" y="119.25" width="3.7" height="3.7" fill="#1b9e77"/><path d="M55.6 116.00V123.90M53.20 121.30L55.6 123.90L58.00 121.30" fill="none" stroke="#7570b3" stroke-width="0.7" stroke-opacity="0.8"/><path d="M58.2 114.70V122.60M55.80 120.00L58.2 122.60L60.60 120.00" fill="none" stroke="#7570b3" stroke-width="0.7" stroke-opacity="0.8"/><path d="M48.2 118.80V126.70M45.80 124.10L48.2 126.70L50.60 124.10" fill="none" stroke="#7570b3" stroke-width="0.7" stroke-opacity="0.8"/><path d="M48.2 123.60V131.50M45.80 128.90L48.2 131.50L50.60 128.90" fill="none" stroke="#1b9e77" stroke-width="0.7" stroke-opacity="0.8"/><path d="M58.2 124.60V132.50M55.80 129.90L58.2 132.50L60.60 129.90" fill="none" stroke="#7570b3" stroke-width="0.7" stroke-opacity="0.8"/><rect x="71.95" y="122.25" width="3.7" height="3.7" fill="#7570b3"/><path d="M70.6 123.60V131.50M68.20 128.90L70.6 131.50L73.00 128.90" fill="none" stroke="#d95f02" stroke-width="0.7" stroke-opacity="0.8"/><path d="M79.4 123.60V131.50M77.00 128.90L79.4 131.50L81.80 128.90" fill="none" stroke="#444444" stroke-width="0.7" stroke-opacity="0.8"/><path d="M79.4 127.40V135.30M77.00 132.70L79.4 135.30L81.80 132.70" fill="none" stroke="#444444" stroke-width="0.7" stroke-opacity="0.8"/><rect x="62.15" y="130.95" width="3.7" height="3.7" fill="#7570b3"/><rect x="106.85" y="73.65" width="3.7" height="3.7" fill="#7570b3"/><rect x="127.95" y="76.45" width="3.7" height="3.7" fill="#7570b3"/><path d="M103.5 76.40V84.30M101.10 81.70L103.5 84.30L105.90 81.70" fill="none" stroke="#444444" stroke-width="0.7" stroke-opacity="0.8"/><rect x="103.65" y="81.85" width="3.7" height="3.7" fill="#444444"/><rect x="105.85" y="79.55" width="3.7" height="3.7" fill="#7570b3"/><rect x="113.65" y="81.55" width="3.7" height="3.7" fill="#7570b3"/><rect x="120.45" y="81.25" width="3.7" height="3.7" fill="#444444"/><rect x="117.15" y="86.25" width="3.7" height="3.7" fill="#7570b3"/><rect x="106.85" y="92.95" width="3.7" height="3.7" fill="#7570b3"/><rect x="124.95" y="93.25" width="3.7" height="3.7" fill="#7570b3"/><rect x="127.95" y="88.55" width="3.7" height="3.7" fill="#d95f02"/><rect x="127.95" y="90.35" width="3.7" height="3.7" fill="#1b9e77"/><rect x="102.55" y="99.15" width="3.7" height="3.7" fill="#7570b3"/><rect x="116.65" y="99.15" width="3.7" height="3.7" fill="#1b9e77"/><rect x="120.35" y="98.65" width="3.7" height="3.7" fill="#444444"/><rect x="154.55" y="67.75" width="3.7" height="3.7" fill="#7570b3"/><rect x="154.65" y="71.85" width="3.7" height="3.7" fill="#d95f02"/><path d="M136.0 71.40V79.30M133.60 76.70L136.0 79.30L138.40 76.70" fill="none" stroke="#444444" stroke-width="0.7" stroke-opacity="0.8"/><rect x="136.05" y="72.95" width="3.7" height="3.7" fill="#444444"/><rect x="131.55" y="76.95" width="3.7" height="3.7" fill="#7570b3"/><rect x="134.45" y="78.65" width="3.7" height="3.7" fill="#444444"/><rect x="141.25" y="77.35" width="3.7" height="3.7" fill="#1b9e77"/><rect x="145.65" y="72.95" width="3.7" height="3.7" fill="#444444"/><rect x="147.55" y="75.15" width="3.7" height="3.7" fill="#d95f02"/><rect x="150.85" y="74.05" width="3.7" height="3.7" fill="#444444"/><rect x="151.95" y="76.95" width="3.7" height="3.7" fill="#7570b3"/><rect x="154.95" y="78.45" width="3.7" height="3.7" fill="#444444"/><rect x="154.95" y="81.05" width="3.7" height="3.7" fill="#d95f02"/><rect x="151.55" y="81.05" width="3.7" height="3.7" fill="#1b9e77"/><rect x="152.35" y="83.65" width="3.7" height="3.7" fill="#1b9e77"/><rect x="147.75" y="85.55" width="3.7" height="3.7" fill="#444444"/><rect x="138.15" y="88.85" width="3.7" height="3.7" fill="#7570b3"/><rect x="138.15" y="92.55" width="3.7" height="3.7" fill="#1b9e77"/><rect x="141.25" y="94.35" width="3.7" height="3.7" fill="#d95f02"/><rect x="150.85" y="90.35" width="3.7" height="3.7" fill="#7570b3"/><rect x="147.75" y="92.95" width="3.7" height="3.7" fill="#d95f02"/><rect x="158.95" y="90.35" width="3.7" height="3.7" fill="#d95f02"/><rect x="154.85" y="96.55" width="3.7" height="3.7" fill="#444444"/><rect x="159.75" y="95.15" width="3.7" height="3.7" fill="#d95f02"/><rect x="161.45" y="94.95" width="3.7" height="3.7" fill="#d95f02"/><rect x="161.85" y="98.65" width="3.7" height="3.7" fill="#1b9e77"/><rect x="165.35" y="97.95" width="3.7" height="3.7" fill="#d95f02"/><rect x="159.65" y="101.65" width="3.7" height="3.7" fill="#d95f02"/><rect x="159.65" y="104.95" width="3.7" height="3.7" fill="#1b9e77"/><rect x="137.55" y="98.55" width="3.7" height="3.7" fill="#7570b3"/><path d="M153.3 96.50V104.40M150.90 101.80L153.3 104.40L155.70 101.80" fill="none" stroke="#444444" stroke-width="0.7" stroke-opacity="0.8"/><rect x="152.25" y="84.05" width="3.7" height="3.7" fill="#1b9e77"/><rect x="150.75" y="90.15" width="3.7" height="3.7" fill="#7570b3"/><path d="M99.6 104.60V112.50M97.20 109.90L99.6 112.50L102.00 109.90" fill="none" stroke="#1b9e77" stroke-width="0.7" stroke-opacity="0.8"/><path d="M99.6 115.30V123.20M97.20 120.60L99.6 123.20L102.00 120.60" fill="none" stroke="#1b9e77" stroke-width="0.7" stroke-opacity="0.8"/><rect x="102.55" y="114.15" width="3.7" height="3.7" fill="#7570b3"/><path d="M104.4 113.40V121.30M102.00 118.70L104.4 121.30L106.80 118.70" fill="none" stroke="#7570b3" stroke-width="0.7" stroke-opacity="0.8"/><rect x="106.85" y="109.35" width="3.7" height="3.7" fill="#444444"/><rect x="106.85" y="111.55" width="3.7" height="3.7" fill="#444444"/><rect x="106.85" y="114.55" width="3.7" height="3.7" fill="#7570b3"/><rect x="112.35" y="113.05" width="3.7" height="3.7" fill="#1b9e77"/><rect x="110.35" y="120.45" width="3.7" height="3.7" fill="#7570b3"/><rect x="105.15" y="128.95" width="3.7" height="3.7" fill="#444444"/><path d="M122.3 119.40V127.30M119.90 124.70L122.3 127.30L124.70 124.70" fill="none" stroke="#444444" stroke-width="0.7" stroke-opacity="0.8"/><path d="M122.3 121.90V129.80M119.90 127.20L122.3 129.80L124.70 127.20" fill="none" stroke="#aaaaaa" stroke-width="0.7" stroke-opacity="0.8"/><path d="M129.6 104.60V112.50M127.20 109.90L129.6 112.50L132.00 109.90" fill="none" stroke="#aaaaaa" stroke-width="0.7" stroke-opacity="0.8"/><rect x="127.75" y="110.65" width="3.7" height="3.7" fill="#1b9e77"/><rect x="127.75" y="113.65" width="3.7" height="3.7" fill="#1b9e77"/><rect x="127.75" y="116.15" width="3.7" height="3.7" fill="#1b9e77"/><path d="M126.6 108.40V116.30M124.20 113.70L126.6 116.30L129.00 113.70" fill="none" stroke="#7570b3" stroke-width="0.7" stroke-opacity="0.8"/><rect x="133.05" y="102.35" width="3.7" height="3.7" fill="#d95f02"/><rect x="134.15" y="106.45" width="3.7" height="3.7" fill="#7570b3"/><rect x="134.95" y="106.45" width="3.7" height="3.7" fill="#1b9e77"/><rect x="138.25" y="108.95" width="3.7" height="3.7" fill="#7570b3"/><rect x="141.25" y="107.85" width="3.7" height="3.7" fill="#d95f02"/><path d="M146.0 103.90V111.80M143.60 109.20L146.0 111.80L148.40 109.20" fill="none" stroke="#7570b3" stroke-width="0.7" stroke-opacity="0.8"/><rect x="134.15" y="112.65" width="3.7" height="3.7" fill="#d95f02"/><rect x="140.45" y="114.55" width="3.7" height="3.7" fill="#1b9e77"/><rect x="143.45" y="114.55" width="3.7" height="3.7" fill="#1b9e77"/><path d="M157.4 103.90V111.80M155.00 109.20L157.4 111.80L159.80 109.20" fill="none" stroke="#aaaaaa" stroke-width="0.7" stroke-opacity="0.8"/><rect x="162.55" y="110.95" width="3.7" height="3.7" fill="#aaaaaa"/><rect x="165.15" y="110.15" width="3.7" height="3.7" fill="#d95f02"/><rect x="168.55" y="110.95" width="3.7" height="3.7" fill="#aaaaaa"/><path d="M160.4 110.90V118.80M158.00 116.20L160.4 118.80L162.80 116.20" fill="none" stroke="#7570b3" stroke-width="0.7" stroke-opacity="0.8"/><path d="M153.4 116.40V124.30M151.00 121.70L153.4 124.30L155.80 121.70" fill="none" stroke="#1b9e77" stroke-width="0.7" stroke-opacity="0.8"/><rect x="148.95" y="121.25" width="3.7" height="3.7" fill="#d95f02"/><rect x="151.55" y="123.75" width="3.7" height="3.7" fill="#d95f02"/><rect x="154.95" y="119.35" width="3.7" height="3.7" fill="#d95f02"/><rect x="158.25" y="120.85" width="3.7" height="3.7" fill="#d95f02"/><rect x="158.95" y="119.75" width="3.7" height="3.7" fill="#d95f02"/><rect x="144.15" y="123.05" width="3.7" height="3.7" fill="#d95f02"/><rect x="136.05" y="125.65" width="3.7" height="3.7" fill="#d95f02"/><rect x="141.25" y="128.25" width="3.7" height="3.7" fill="#1b9e77"/><rect x="186.85" y="65.95" width="3.7" height="3.7" fill="#d95f02"/><rect x="207.15" y="65.95" width="3.7" height="3.7" fill="#7570b3"/><rect x="175.35" y="78.05" width="3.7" height="3.7" fill="#d95f02"/><path d="M174.8 80.90V88.80M172.40 86.20L174.8 88.80L177.20 86.20" fill="none" stroke="#aaaaaa" stroke-width="0.7" stroke-opacity="0.8"/><path d="M182.0 80.90V88.80M179.60 86.20L182.0 88.80L184.40 86.20" fill="none" stroke="#aaaaaa" stroke-width="0.7" stroke-opacity="0.8"/><rect x="180.65" y="106.35" width="3.7" height="3.7" fill="#7570b3"/><rect x="68.95" y="138.95" width="3.7" height="3.7" fill="#7570b3"/><rect x="68.95" y="145.75" width="3.7" height="3.7" fill="#7570b3"/><rect x="85.75" y="142.95" width="3.7" height="3.7" fill="#1b9e77"/><rect x="85.75" y="147.45" width="3.7" height="3.7" fill="#1b9e77"/><rect x="83.15" y="153.35" width="3.7" height="3.7" fill="#7570b3"/><path d="M87.6 158.00V165.90M85.20 163.30L87.6 165.90L90.00 163.30" fill="none" stroke="#444444" stroke-width="0.7" stroke-opacity="0.8"/><rect x="82.75" y="164.55" width="3.7" height="3.7" fill="#7570b3"/><path d="M87.8 161.80V169.70M85.40 167.10L87.8 169.70L90.20 167.10" fill="none" stroke="#7570b3" stroke-width="0.7" stroke-opacity="0.8"/><path d="M79.4 160.00V167.90M77.00 165.30L79.4 167.90L81.80 165.30" fill="none" stroke="#7570b3" stroke-width="0.7" stroke-opacity="0.8"/><path d="M86.2 174.40V182.30M83.80 179.70L86.2 182.30L88.60 179.70" fill="none" stroke="#7570b3" stroke-width="0.7" stroke-opacity="0.8"/><path d="M55.4 155.70V163.60M53.00 161.00L55.4 163.60L57.80 161.00" fill="none" stroke="#7570b3" stroke-width="0.7" stroke-opacity="0.8"/><path d="M53.5 160.80V168.70M51.10 166.10L53.5 168.70L55.90 166.10" fill="none" stroke="#7570b3" stroke-width="0.7" stroke-opacity="0.8"/><rect x="53.55" y="167.15" width="3.7" height="3.7" fill="#d95f02"/><rect x="106.85" y="136.15" width="3.7" height="3.7" fill="#7570b3"/><rect x="124.95" y="133.75" width="3.7" height="3.7" fill="#7570b3"/><rect x="128.15" y="135.25" width="3.7" height="3.7" fill="#1b9e77"/><rect x="128.15" y="137.45" width="3.7" height="3.7" fill="#444444"/><rect x="127.95" y="142.65" width="3.7" height="3.7" fill="#1b9e77"/><rect x="97.45" y="144.85" width="3.7" height="3.7" fill="#7570b3"/><rect x="102.65" y="145.85" width="3.7" height="3.7" fill="#d95f02"/><rect x="120.55" y="146.35" width="3.7" height="3.7" fill="#444444"/><rect x="109.85" y="150.25" width="3.7" height="3.7" fill="#1b9e77"/><rect x="108.35" y="154.45" width="3.7" height="3.7" fill="#7570b3"/><path d="M115.6 146.00V153.90M113.20 151.30L115.6 153.90L118.00 151.30" fill="none" stroke="#1b9e77" stroke-width="0.7" stroke-opacity="0.8"/><path d="M114.4 153.70V161.60M112.00 159.00L114.4 161.60L116.80 159.00" fill="none" stroke="#1b9e77" stroke-width="0.7" stroke-opacity="0.8"/><path d="M112.8 155.00V162.90M110.40 160.30L112.8 162.90L115.20 160.30" fill="none" stroke="#7570b3" stroke-width="0.7" stroke-opacity="0.8"/><path d="M99.3 155.90V163.80M96.90 161.20L99.3 163.80L101.70 161.20" fill="none" stroke="#7570b3" stroke-width="0.7" stroke-opacity="0.8"/><path d="M98.7 157.20V165.10M96.30 162.50L98.7 165.10L101.10 162.50" fill="none" stroke="#1b9e77" stroke-width="0.7" stroke-opacity="0.8"/><path d="M104.5 161.20V169.10M102.10 166.50L104.5 169.10L106.90 166.50" fill="none" stroke="#1b9e77" stroke-width="0.7" stroke-opacity="0.8"/><path d="M115.6 160.00V167.90M113.20 165.30L115.6 167.90L118.00 165.30" fill="none" stroke="#444444" stroke-width="0.7" stroke-opacity="0.8"/><path d="M122.4 157.00V164.90M120.00 162.30L122.4 164.90L124.80 162.30" fill="none" stroke="#1b9e77" stroke-width="0.7" stroke-opacity="0.8"/><path d="M125.7 152.80V160.70M123.30 158.10L125.7 160.70L128.10 158.10" fill="none" stroke="#aaaaaa" stroke-width="0.7" stroke-opacity="0.8"/><path d="M132.3 146.40V154.30M129.90 151.70L132.3 154.30L134.70 151.70" fill="none" stroke="#1b9e77" stroke-width="0.7" stroke-opacity="0.8"/><path d="M129.2 147.80V155.70M126.80 153.10L129.2 155.70L131.60 153.10" fill="none" stroke="#1b9e77" stroke-width="0.7" stroke-opacity="0.8"/><rect x="127.95" y="156.65" width="3.7" height="3.7" fill="#1b9e77"/><rect x="138.35" y="140.45" width="3.7" height="3.7" fill="#1b9e77"/><rect x="138.35" y="143.55" width="3.7" height="3.7" fill="#d95f02"/><rect x="138.35" y="148.55" width="3.7" height="3.7" fill="#1b9e77"/><rect x="138.35" y="153.35" width="3.7" height="3.7" fill="#d95f02"/><path d="M136.2 157.40V165.30M133.80 162.70L136.2 165.30L138.60 162.70" fill="none" stroke="#1b9e77" stroke-width="0.7" stroke-opacity="0.8"/><path d="M138.0 157.40V165.30M135.60 162.70L138.0 165.30L140.40 162.70" fill="none" stroke="#1b9e77" stroke-width="0.7" stroke-opacity="0.8"/><path d="M142.8 157.40V165.30M140.40 162.70L142.8 165.30L145.20 162.70" fill="none" stroke="#1b9e77" stroke-width="0.7" stroke-opacity="0.8"/><path d="M134.7 156.80V164.70M132.30 162.10L134.7 164.70L137.10 162.10" fill="none" stroke="#444444" stroke-width="0.7" stroke-opacity="0.8"/><path d="M144.5 159.70V167.60M142.10 165.00L144.5 167.60L146.90 165.00" fill="none" stroke="#444444" stroke-width="0.7" stroke-opacity="0.8"/><path d="M150.5 136.00V143.90M148.10 141.30L150.5 143.90L152.90 141.30" fill="none" stroke="#1b9e77" stroke-width="0.7" stroke-opacity="0.8"/><rect x="154.75" y="134.15" width="3.7" height="3.7" fill="#d95f02"/><rect x="155.65" y="148.25" width="3.7" height="3.7" fill="#aaaaaa"/><rect x="158.25" y="150.85" width="3.7" height="3.7" fill="#7570b3"/><path d="M164.5 158.90V166.80M162.10 164.20L164.5 166.80L166.90 164.20" fill="none" stroke="#aaaaaa" stroke-width="0.7" stroke-opacity="0.8"/><path d="M99.1 173.20V181.10M96.70 178.50L99.1 181.10L101.50 178.50" fill="none" stroke="#7570b3" stroke-width="0.7" stroke-opacity="0.8"/><path d="M329.4 24.00V31.90M327.00 29.30L329.4 31.90L331.80 29.30" fill="none" stroke="#444444" stroke-width="0.7" stroke-opacity="0.8"/><rect x="400.45" y="15.55" width="3.7" height="3.7" fill="#7570b3"/><rect x="379.65" y="22.95" width="3.7" height="3.7" fill="#d95f02"/><rect x="403.05" y="26.05" width="3.7" height="3.7" fill="#7570b3"/><rect x="355.25" y="34.95" width="3.7" height="3.7" fill="#7570b3"/><rect x="401.15" y="35.65" width="3.7" height="3.7" fill="#aaaaaa"/><rect x="375.95" y="39.15" width="3.7" height="3.7" fill="#7570b3"/><rect x="394.45" y="40.95" width="3.7" height="3.7" fill="#7570b3"/><rect x="396.65" y="42.45" width="3.7" height="3.7" fill="#7570b3"/><rect x="380.85" y="48.55" width="3.7" height="3.7" fill="#7570b3"/><rect x="384.45" y="48.85" width="3.7" height="3.7" fill="#d95f02"/><rect x="389.25" y="47.95" width="3.7" height="3.7" fill="#1b9e77"/><rect x="380.15" y="52.25" width="3.7" height="3.7" fill="#444444"/><rect x="377.05" y="53.95" width="3.7" height="3.7" fill="#7570b3"/><rect x="376.65" y="55.05" width="3.7" height="3.7" fill="#7570b3"/><rect x="389.25" y="51.65" width="3.7" height="3.7" fill="#444444"/><rect x="394.45" y="51.35" width="3.7" height="3.7" fill="#7570b3"/><rect x="383.85" y="55.95" width="3.7" height="3.7" fill="#d95f02"/><rect x="388.55" y="55.55" width="3.7" height="3.7" fill="#7570b3"/><rect x="392.25" y="56.55" width="3.7" height="3.7" fill="#7570b3"/><rect x="389.45" y="61.65" width="3.7" height="3.7" fill="#444444"/><rect x="391.25" y="62.05" width="3.7" height="3.7" fill="#7570b3"/><rect x="382.55" y="63.95" width="3.7" height="3.7" fill="#444444"/><rect x="406.25" y="27.65" width="3.7" height="3.7" fill="#7570b3"/><rect x="406.25" y="34.65" width="3.7" height="3.7" fill="#7570b3"/><rect x="410.55" y="39.25" width="3.7" height="3.7" fill="#aaaaaa"/><rect x="417.85" y="39.95" width="3.7" height="3.7" fill="#aaaaaa"/><rect x="406.65" y="43.75" width="3.7" height="3.7" fill="#444444"/><rect x="411.55" y="52.65" width="3.7" height="3.7" fill="#7570b3"/><rect x="452.35" y="55.05" width="3.7" height="3.7" fill="#7570b3"/><rect x="440.65" y="63.55" width="3.7" height="3.7" fill="#d95f02"/><rect x="310.45" y="90.55" width="3.7" height="3.7" fill="#7570b3"/><rect x="295.35" y="96.75" width="3.7" height="3.7" fill="#1b9e77"/><path d="M309.1 95.80V103.70M306.70 101.10L309.1 103.70L311.50 101.10" fill="none" stroke="#1b9e77" stroke-width="0.7" stroke-opacity="0.8"/><path d="M309.1 101.80V109.70M306.70 107.10L309.1 109.70L311.50 107.10" fill="none" stroke="#1b9e77" stroke-width="0.7" stroke-opacity="0.8"/><path d="M327.1 92.20V100.10M324.70 97.50L327.1 100.10L329.50 97.50" fill="none" stroke="#7570b3" stroke-width="0.7" stroke-opacity="0.8"/><path d="M327.1 99.40V107.30M324.70 104.70L327.1 107.30L329.50 104.70" fill="none" stroke="#7570b3" stroke-width="0.7" stroke-opacity="0.8"/><rect x="327.35" y="108.85" width="3.7" height="3.7" fill="#7570b3"/><rect x="327.35" y="113.15" width="3.7" height="3.7" fill="#7570b3"/><rect x="327.35" y="116.25" width="3.7" height="3.7" fill="#7570b3"/><path d="M289.8 106.20V114.10M287.40 111.50L289.8 114.10L292.20 111.50" fill="none" stroke="#7570b3" stroke-width="0.7" stroke-opacity="0.8"/><path d="M289.8 109.80V117.70M287.40 115.10L289.8 117.70L292.20 115.10" fill="none" stroke="#1b9e77" stroke-width="0.7" stroke-opacity="0.8"/><path d="M297.5 109.40V117.30M295.10 114.70L297.5 117.30L299.90 114.70" fill="none" stroke="#7570b3" stroke-width="0.7" stroke-opacity="0.8"/><path d="M299.6 108.00V115.90M297.20 113.30L299.6 115.90L302.00 113.30" fill="none" stroke="#7570b3" stroke-width="0.7" stroke-opacity="0.8"/><rect x="313.45" y="110.65" width="3.7" height="3.7" fill="#7570b3"/><path d="M312.3 117.00V124.90M309.90 122.30L312.3 124.90L314.70 122.30" fill="none" stroke="#d95f02" stroke-width="0.7" stroke-opacity="0.8"/><rect x="304.05" y="121.25" width="3.7" height="3.7" fill="#7570b3"/><path d="M321.5 121.40V129.30M319.10 126.70L321.5 129.30L323.90 126.70" fill="none" stroke="#444444" stroke-width="0.7" stroke-opacity="0.8"/><rect x="310.45" y="128.95" width="3.7" height="3.7" fill="#7570b3"/><rect x="345.15" y="69.25" width="3.7" height="3.7" fill="#444444"/><rect x="348.65" y="69.25" width="3.7" height="3.7" fill="#7570b3"/><path d="M344.4 75.70V83.60M342.00 81.00L344.4 83.60L346.80 81.00" fill="none" stroke="#444444" stroke-width="0.7" stroke-opacity="0.8"/><rect x="346.95" y="77.35" width="3.7" height="3.7" fill="#7570b3"/><rect x="344.75" y="80.55" width="3.7" height="3.7" fill="#444444"/><rect x="355.25" y="82.55" width="3.7" height="3.7" fill="#7570b3"/><rect x="355.25" y="84.55" width="3.7" height="3.7" fill="#7570b3"/><rect x="344.15" y="87.75" width="3.7" height="3.7" fill="#7570b3"/><rect x="348.45" y="92.55" width="3.7" height="3.7" fill="#7570b3"/><rect x="362.15" y="86.45" width="3.7" height="3.7" fill="#444444"/><rect x="366.35" y="87.95" width="3.7" height="3.7" fill="#7570b3"/><rect x="358.65" y="92.65" width="3.7" height="3.7" fill="#7570b3"/><rect x="369.15" y="82.35" width="3.7" height="3.7" fill="#7570b3"/><rect x="369.15" y="92.65" width="3.7" height="3.7" fill="#1b9e77"/><rect x="369.15" y="97.55" width="3.7" height="3.7" fill="#d95f02"/><rect x="362.15" y="100.05" width="3.7" height="3.7" fill="#444444"/><rect x="375.95" y="67.75" width="3.7" height="3.7" fill="#1b9e77"/><rect x="377.75" y="70.75" width="3.7" height="3.7" fill="#444444"/><rect x="381.35" y="71.65" width="3.7" height="3.7" fill="#7570b3"/><rect x="373.45" y="74.15" width="3.7" height="3.7" fill="#7570b3"/><rect x="393.15" y="67.55" width="3.7" height="3.7" fill="#7570b3"/><rect x="389.65" y="69.55" width="3.7" height="3.7" fill="#d95f02"/><rect x="387.55" y="72.95" width="3.7" height="3.7" fill="#444444"/><rect x="396.65" y="75.85" width="3.7" height="3.7" fill="#d95f02"/><rect x="399.65" y="76.65" width="3.7" height="3.7" fill="#d95f02"/><rect x="393.65" y="79.55" width="3.7" height="3.7" fill="#7570b3"/><rect x="396.65" y="82.15" width="3.7" height="3.7" fill="#444444"/><rect x="389.25" y="84.05" width="3.7" height="3.7" fill="#d95f02"/><rect x="392.55" y="85.25" width="3.7" height="3.7" fill="#444444"/><rect x="369.65" y="82.55" width="3.7" height="3.7" fill="#7570b3"/><path d="M377.5 79.90V87.80M375.10 85.20L377.5 87.80L379.90 85.20" fill="none" stroke="#444444" stroke-width="0.7" stroke-opacity="0.8"/><rect x="375.65" y="86.65" width="3.7" height="3.7" fill="#444444"/><rect x="382.55" y="85.15" width="3.7" height="3.7" fill="#1b9e77"/><rect x="389.25" y="91.45" width="3.7" height="3.7" fill="#444444"/><rect x="396.65" y="91.45" width="3.7" height="3.7" fill="#444444"/><rect x="393.35" y="94.05" width="3.7" height="3.7" fill="#1b9e77"/><rect x="394.05" y="96.25" width="3.7" height="3.7" fill="#1b9e77"/><rect x="396.65" y="94.35" width="3.7" height="3.7" fill="#d95f02"/><rect x="369.45" y="92.95" width="3.7" height="3.7" fill="#1b9e77"/><rect x="379.65" y="94.75" width="3.7" height="3.7" fill="#1b9e77"/><rect x="379.65" y="99.15" width="3.7" height="3.7" fill="#7570b3"/><rect x="382.55" y="99.55" width="3.7" height="3.7" fill="#d95f02"/><path d="M340.8 100.00V107.90M338.40 105.30L340.8 107.90L343.20 105.30" fill="none" stroke="#1b9e77" stroke-width="0.7" stroke-opacity="0.8"/><path d="M340.8 107.20V115.10M338.40 112.50L340.8 115.10L343.20 112.50" fill="none" stroke="#7570b3" stroke-width="0.7" stroke-opacity="0.8"/><path d="M340.8 111.20V119.10M338.40 116.50L340.8 119.10L343.20 116.50" fill="none" stroke="#1b9e77" stroke-width="0.7" stroke-opacity="0.8"/><path d="M345.9 106.40V114.30M343.50 111.70L345.9 114.30L348.30 111.70" fill="none" stroke="#7570b3" stroke-width="0.7" stroke-opacity="0.8"/><rect x="348.45" y="110.85" width="3.7" height="3.7" fill="#444444"/><path d="M348.8 109.00V116.90M346.40 114.30L348.8 116.90L351.20 114.30" fill="none" stroke="#7570b3" stroke-width="0.7" stroke-opacity="0.8"/><rect x="348.45" y="117.15" width="3.7" height="3.7" fill="#444444"/><rect x="343.85" y="117.25" width="3.7" height="3.7" fill="#7570b3"/><rect x="354.05" y="108.15" width="3.7" height="3.7" fill="#1b9e77"/><rect x="358.05" y="107.65" width="3.7" height="3.7" fill="#1b9e77"/><rect x="352.05" y="123.95" width="3.7" height="3.7" fill="#7570b3"/><path d="M371.0 107.40V115.30M368.60 112.70L371.0 115.30L373.40 112.70" fill="none" stroke="#444444" stroke-width="0.7" stroke-opacity="0.8"/><path d="M368.5 118.40V126.30M366.10 123.70L368.5 126.30L370.90 123.70" fill="none" stroke="#7570b3" stroke-width="0.7" stroke-opacity="0.8"/><rect x="369.45" y="120.95" width="3.7" height="3.7" fill="#1b9e77"/><rect x="369.45" y="125.45" width="3.7" height="3.7" fill="#1b9e77"/><path d="M371.5 113.80V121.70M369.10 119.10L371.5 121.70L373.90 119.10" fill="none" stroke="#444444" stroke-width="0.7" stroke-opacity="0.8"/><rect x="374.85" y="101.55" width="3.7" height="3.7" fill="#d95f02"/><rect x="379.65" y="99.75" width="3.7" height="3.7" fill="#7570b3"/><rect x="382.55" y="100.45" width="3.7" height="3.7" fill="#d95f02"/><rect x="393.65" y="97.55" width="3.7" height="3.7" fill="#1b9e77"/><path d="M394.9 99.60V107.50M392.50 104.90L394.9 107.50L397.30 104.90" fill="none" stroke="#444444" stroke-width="0.7" stroke-opacity="0.8"/><rect x="392.55" y="103.45" width="3.7" height="3.7" fill="#7570b3"/><rect x="389.25" y="105.45" width="3.7" height="3.7" fill="#d95f02"/><rect x="400.35" y="105.25" width="3.7" height="3.7" fill="#d95f02"/><rect x="402.15" y="102.35" width="3.7" height="3.7" fill="#d95f02"/><rect x="376.85" y="107.15" width="3.7" height="3.7" fill="#1b9e77"/><rect x="379.25" y="110.15" width="3.7" height="3.7" fill="#7570b3"/><rect x="375.55" y="113.85" width="3.7" height="3.7" fill="#7570b3"/><rect x="380.35" y="114.95" width="3.7" height="3.7" fill="#7570b3"/><path d="M387.4 108.40V116.30M385.00 113.70L387.4 116.30L389.80 113.70" fill="none" stroke="#7570b3" stroke-width="0.7" stroke-opacity="0.8"/><rect x="382.55" y="120.45" width="3.7" height="3.7" fill="#d95f02"/><rect x="375.95" y="124.55" width="3.7" height="3.7" fill="#d95f02"/><rect x="382.95" y="127.45" width="3.7" height="3.7" fill="#1b9e77"/><rect x="385.15" y="128.65" width="3.7" height="3.7" fill="#1b9e77"/><rect x="386.65" y="128.95" width="3.7" height="3.7" fill="#d95f02"/><path d="M399.2 114.40V122.30M396.80 119.70L399.2 122.30L401.60 119.70" fill="none" stroke="#aaaaaa" stroke-width="0.7" stroke-opacity="0.8"/><rect x="399.65" y="120.45" width="3.7" height="3.7" fill="#d95f02"/><rect x="401.45" y="119.35" width="3.7" height="3.7" fill="#1b9e77"/><rect x="396.25" y="126.75" width="3.7" height="3.7" fill="#d95f02"/><path d="M394.8 126.20V134.10M392.40 131.50L394.8 134.10L397.20 131.50" fill="none" stroke="#1b9e77" stroke-width="0.7" stroke-opacity="0.8"/><rect x="402.55" y="111.55" width="3.7" height="3.7" fill="#1b9e77"/><rect x="417.15" y="68.35" width="3.7" height="3.7" fill="#7570b3"/><path d="M423.5 69.00V76.90M421.10 74.30L423.5 76.90L425.90 74.30" fill="none" stroke="#aaaaaa" stroke-width="0.7" stroke-opacity="0.8"/><rect x="399.65" y="76.85" width="3.7" height="3.7" fill="#d95f02"/><rect x="408.95" y="79.15" width="3.7" height="3.7" fill="#444444"/><rect x="428.15" y="85.05" width="3.7" height="3.7" fill="#d95f02"/><rect x="417.15" y="92.25" width="3.7" height="3.7" fill="#d95f02"/><path d="M416.2 96.80V104.70M413.80 102.10L416.2 104.70L418.60 102.10" fill="none" stroke="#aaaaaa" stroke-width="0.7" stroke-opacity="0.8"/><rect x="448.75" y="88.15" width="3.7" height="3.7" fill="#7570b3"/><rect x="403.55" y="111.65" width="3.7" height="3.7" fill="#1b9e77"/><rect x="406.85" y="111.85" width="3.7" height="3.7" fill="#d95f02"/><rect x="406.35" y="118.55" width="3.7" height="3.7" fill="#d95f02"/><rect x="404.15" y="125.35" width="3.7" height="3.7" fill="#aaaaaa"/><rect x="409.85" y="125.35" width="3.7" height="3.7" fill="#aaaaaa"/><rect x="422.15" y="119.95" width="3.7" height="3.7" fill="#7570b3"/><rect x="310.55" y="136.15" width="3.7" height="3.7" fill="#7570b3"/><rect x="327.35" y="140.25" width="3.7" height="3.7" fill="#1b9e77"/><rect x="327.35" y="149.25" width="3.7" height="3.7" fill="#1b9e77"/><rect x="295.15" y="149.75" width="3.7" height="3.7" fill="#d95f02"/><path d="M297.3 153.00V160.90M294.90 158.30L297.3 160.90L299.70 158.30" fill="none" stroke="#7570b3" stroke-width="0.7" stroke-opacity="0.8"/><path d="M294.9 157.80V165.70M292.50 163.10L294.9 165.70L297.30 163.10" fill="none" stroke="#7570b3" stroke-width="0.7" stroke-opacity="0.8"/><path d="M297.3 158.40V166.30M294.90 163.70L297.3 166.30L299.70 163.70" fill="none" stroke="#7570b3" stroke-width="0.7" stroke-opacity="0.8"/><path d="M321.3 155.70V163.60M318.90 161.00L321.3 163.60L323.70 161.00" fill="none" stroke="#7570b3" stroke-width="0.7" stroke-opacity="0.8"/><rect x="324.75" y="156.35" width="3.7" height="3.7" fill="#7570b3"/><path d="M329.5 152.20V160.10M327.10 157.50L329.5 160.10L331.90 157.50" fill="none" stroke="#444444" stroke-width="0.7" stroke-opacity="0.8"/><path d="M329.5 155.40V163.30M327.10 160.70L329.5 163.30L331.90 160.70" fill="none" stroke="#7570b3" stroke-width="0.7" stroke-opacity="0.8"/><rect x="324.75" y="166.15" width="3.7" height="3.7" fill="#7570b3"/><path d="M328.4 183.40V191.30M326.00 188.70L328.4 191.30L330.80 188.70" fill="none" stroke="#7570b3" stroke-width="0.7" stroke-opacity="0.8"/><rect x="366.65" y="134.75" width="3.7" height="3.7" fill="#7570b3"/><rect x="369.15" y="138.55" width="3.7" height="3.7" fill="#1b9e77"/><path d="M364.0 133.00V140.90M361.60 138.30L364.0 140.90L366.40 138.30" fill="none" stroke="#aaaaaa" stroke-width="0.7" stroke-opacity="0.8"/><path d="M364.0 136.80V144.70M361.60 142.10L364.0 144.70L366.40 142.10" fill="none" stroke="#444444" stroke-width="0.7" stroke-opacity="0.8"/><rect x="338.95" y="140.65" width="3.7" height="3.7" fill="#7570b3"/><rect x="346.95" y="140.25" width="3.7" height="3.7" fill="#444444"/><rect x="349.25" y="140.25" width="3.7" height="3.7" fill="#7570b3"/><rect x="369.65" y="144.65" width="3.7" height="3.7" fill="#1b9e77"/><rect x="369.65" y="146.75" width="3.7" height="3.7" fill="#444444"/><rect x="344.05" y="151.25" width="3.7" height="3.7" fill="#d95f02"/><rect x="361.95" y="150.25" width="3.7" height="3.7" fill="#444444"/><path d="M357.4 147.00V154.90M355.00 152.30L357.4 154.90L359.80 152.30" fill="none" stroke="#1b9e77" stroke-width="0.7" stroke-opacity="0.8"/><rect x="351.05" y="154.15" width="3.7" height="3.7" fill="#1b9e77"/><path d="M355.9 150.80V158.70M353.50 156.10L355.9 158.70L358.30 156.10" fill="none" stroke="#1b9e77" stroke-width="0.7" stroke-opacity="0.8"/><path d="M340.8 148.80V156.70M338.40 154.10L340.8 156.70L343.20 154.10" fill="none" stroke="#7570b3" stroke-width="0.7" stroke-opacity="0.8"/><path d="M340.3 155.00V162.90M337.90 160.30L340.3 162.90L342.70 160.30" fill="none" stroke="#1b9e77" stroke-width="0.7" stroke-opacity="0.8"/><path d="M354.4 157.40V165.30M352.00 162.70L354.4 165.30L356.80 162.70" fill="none" stroke="#7570b3" stroke-width="0.7" stroke-opacity="0.8"/><rect x="349.85" y="164.45" width="3.7" height="3.7" fill="#7570b3"/><path d="M357.4 164.80V172.70M355.00 170.10L357.4 172.70L359.80 170.10" fill="none" stroke="#444444" stroke-width="0.7" stroke-opacity="0.8"/><path d="M367.3 159.40V167.30M364.90 164.70L367.3 167.30L369.70 164.70" fill="none" stroke="#aaaaaa" stroke-width="0.7" stroke-opacity="0.8"/><rect x="369.35" y="168.55" width="3.7" height="3.7" fill="#1b9e77"/><path d="M340.8 169.80V177.70M338.40 175.10L340.8 177.70L343.20 175.10" fill="none" stroke="#7570b3" stroke-width="0.7" stroke-opacity="0.8"/><path d="M346.0 169.40V177.30M343.60 174.70L346.0 177.30L348.40 174.70" fill="none" stroke="#1b9e77" stroke-width="0.7" stroke-opacity="0.8"/><path d="M364.0 171.20V179.10M361.60 176.50L364.0 179.10L366.40 176.50" fill="none" stroke="#1b9e77" stroke-width="0.7" stroke-opacity="0.8"/><rect x="377.75" y="135.85" width="3.7" height="3.7" fill="#d95f02"/><rect x="382.85" y="139.15" width="3.7" height="3.7" fill="#1b9e77"/><rect x="390.75" y="133.25" width="3.7" height="3.7" fill="#d95f02"/><path d="M391.8 133.60V141.50M389.40 138.90L391.8 141.50L394.20 138.90" fill="none" stroke="#1b9e77" stroke-width="0.7" stroke-opacity="0.8"/><rect x="400.35" y="134.75" width="3.7" height="3.7" fill="#d95f02"/><rect x="393.35" y="143.25" width="3.7" height="3.7" fill="#d95f02"/><rect x="396.65" y="143.25" width="3.7" height="3.7" fill="#d95f02"/><rect x="379.95" y="151.35" width="3.7" height="3.7" fill="#1b9e77"/><rect x="379.95" y="155.45" width="3.7" height="3.7" fill="#d95f02"/><rect x="379.95" y="161.35" width="3.7" height="3.7" fill="#1b9e77"/><rect x="379.85" y="167.05" width="3.7" height="3.7" fill="#d95f02"/><path d="M371.5 153.20V161.10M369.10 158.50L371.5 161.10L373.90 158.50" fill="none" stroke="#1b9e77" stroke-width="0.7" stroke-opacity="0.8"/><path d="M374.4 156.20V164.10M372.00 161.50L374.4 164.10L376.80 161.50" fill="none" stroke="#1b9e77" stroke-width="0.7" stroke-opacity="0.8"/><path d="M376.7 165.20V173.10M374.30 170.50L376.7 173.10L379.10 170.50" fill="none" stroke="#444444" stroke-width="0.7" stroke-opacity="0.8"/><path d="M378.1 170.00V177.90M375.70 175.30L378.1 177.90L380.50 175.30" fill="none" stroke="#1b9e77" stroke-width="0.7" stroke-opacity="0.8"/><path d="M379.3 170.00V177.90M376.90 175.30L379.3 177.90L381.70 175.30" fill="none" stroke="#1b9e77" stroke-width="0.7" stroke-opacity="0.8"/><path d="M384.8 171.60V179.50M382.40 176.90L384.8 179.50L387.20 176.90" fill="none" stroke="#1b9e77" stroke-width="0.7" stroke-opacity="0.8"/><path d="M385.9 171.60V179.50M383.50 176.90L385.9 179.50L388.30 176.90" fill="none" stroke="#444444" stroke-width="0.7" stroke-opacity="0.8"/><path d="M377.8 174.40V182.30M375.40 179.70L377.8 182.30L380.20 179.70" fill="none" stroke="#d95f02" stroke-width="0.7" stroke-opacity="0.8"/><rect x="397.35" y="165.95" width="3.7" height="3.7" fill="#aaaaaa"/><rect x="399.95" y="172.55" width="3.7" height="3.7" fill="#7570b3"/><path d="M405.9 181.40V189.30M403.50 186.70L405.9 189.30L408.30 186.70" fill="none" stroke="#aaaaaa" stroke-width="0.7" stroke-opacity="0.8"/><path d="M401.7 129.80V137.70M399.30 135.10L401.7 137.70L404.10 135.10" fill="none" stroke="#7570b3" stroke-width="0.7" stroke-opacity="0.8"/><path d="M87.4 264.20V272.10M85.00 269.50L87.4 272.10L89.80 269.50" fill="none" stroke="#444444" stroke-width="0.7" stroke-opacity="0.8"/><rect x="53.75" y="302.15" width="3.7" height="3.7" fill="#1b9e77"/><rect x="69.05" y="306.05" width="3.7" height="3.7" fill="#7570b3"/><path d="M48.4 305.00V312.90M46.00 310.30L48.4 312.90L50.80 310.30" fill="none" stroke="#7570b3" stroke-width="0.7" stroke-opacity="0.8"/><path d="M48.4 307.80V315.70M46.00 313.10L48.4 315.70L50.80 313.10" fill="none" stroke="#1b9e77" stroke-width="0.7" stroke-opacity="0.8"/><path d="M55.6 311.80V319.70M53.20 317.10L55.6 319.70L58.00 317.10" fill="none" stroke="#7570b3" stroke-width="0.7" stroke-opacity="0.8"/><path d="M58.2 310.40V318.30M55.80 315.70L58.2 318.30L60.60 315.70" fill="none" stroke="#7570b3" stroke-width="0.7" stroke-opacity="0.8"/><path d="M58.2 312.80V320.70M55.80 318.10L58.2 320.70L60.60 318.10" fill="none" stroke="#7570b3" stroke-width="0.7" stroke-opacity="0.8"/><path d="M67.4 307.40V315.30M65.00 312.70L67.4 315.30L69.80 312.70" fill="none" stroke="#1b9e77" stroke-width="0.7" stroke-opacity="0.8"/><path d="M67.4 312.60V320.50M65.00 317.90L67.4 320.50L69.80 317.90" fill="none" stroke="#1b9e77" stroke-width="0.7" stroke-opacity="0.8"/><path d="M85.4 315.40V323.30M83.00 320.70L85.4 323.30L87.80 320.70" fill="none" stroke="#7570b3" stroke-width="0.7" stroke-opacity="0.8"/><path d="M85.4 322.20V330.10M83.00 327.50L85.4 330.10L87.80 327.50" fill="none" stroke="#7570b3" stroke-width="0.7" stroke-opacity="0.8"/><rect x="71.95" y="323.75" width="3.7" height="3.7" fill="#7570b3"/><rect x="62.35" y="326.45" width="3.7" height="3.7" fill="#7570b3"/><path d="M70.6 326.00V333.90M68.20 331.30L70.6 333.90L73.00 331.30" fill="none" stroke="#d95f02" stroke-width="0.7" stroke-opacity="0.8"/><rect x="85.95" y="330.95" width="3.7" height="3.7" fill="#7570b3"/><rect x="85.95" y="333.55" width="3.7" height="3.7" fill="#7570b3"/><rect x="85.95" y="336.15" width="3.7" height="3.7" fill="#7570b3"/><rect x="69.05" y="336.45" width="3.7" height="3.7" fill="#7570b3"/><rect x="69.05" y="341.55" width="3.7" height="3.7" fill="#7570b3"/><path d="M79.4 335.20V343.10M77.00 340.50L79.4 343.10L81.80 340.50" fill="none" stroke="#444444" stroke-width="0.7" stroke-opacity="0.8"/><rect x="53.65" y="343.45" width="3.7" height="3.7" fill="#d95f02"/><path d="M55.2 346.60V354.50M52.80 351.90L55.2 354.50L57.60 351.90" fill="none" stroke="#7570b3" stroke-width="0.7" stroke-opacity="0.8"/><path d="M53.4 348.80V356.70M51.00 354.10L53.4 356.70L55.80 354.10" fill="none" stroke="#7570b3" stroke-width="0.7" stroke-opacity="0.8"/><rect x="85.55" y="355.55" width="3.7" height="3.7" fill="#1b9e77"/><rect x="85.55" y="362.55" width="3.7" height="3.7" fill="#1b9e77"/><rect x="85.55" y="355.65" width="3.7" height="3.7" fill="#1b9e77"/><rect x="85.55" y="362.75" width="3.7" height="3.7" fill="#1b9e77"/><path d="M79.6 362.00V369.90M77.20 367.30L79.6 369.90L82.00 367.30" fill="none" stroke="#7570b3" stroke-width="0.7" stroke-opacity="0.8"/><rect x="83.35" y="366.65" width="3.7" height="3.7" fill="#7570b3"/><path d="M87.4 363.40V371.30M85.00 368.70L87.4 371.30L89.80 368.70" fill="none" stroke="#444444" stroke-width="0.7" stroke-opacity="0.8"/><path d="M87.4 365.80V373.70M85.00 371.10L87.4 373.70L89.80 371.10" fill="none" stroke="#7570b3" stroke-width="0.7" stroke-opacity="0.8"/><rect x="83.15" y="374.35" width="3.7" height="3.7" fill="#7570b3"/><path d="M86.4 387.60V395.50M84.00 392.90L86.4 395.50L88.80 392.90" fill="none" stroke="#7570b3" stroke-width="0.7" stroke-opacity="0.8"/><rect x="142.65" y="267.35" width="3.7" height="3.7" fill="#444444"/><rect x="113.55" y="289.65" width="3.7" height="3.7" fill="#7570b3"/><rect x="137.95" y="295.35" width="3.7" height="3.7" fill="#d95f02"/><rect x="158.85" y="301.95" width="3.7" height="3.7" fill="#7570b3"/><rect x="134.45" y="305.55" width="3.7" height="3.7" fill="#7570b3"/><rect x="103.55" y="310.45" width="3.7" height="3.7" fill="#444444"/><rect x="106.85" y="312.45" width="3.7" height="3.7" fill="#7570b3"/><path d="M102.8 313.60V321.50M100.40 318.90L102.8 321.50L105.20 318.90" fill="none" stroke="#444444" stroke-width="0.7" stroke-opacity="0.8"/><rect x="105.35" y="317.85" width="3.7" height="3.7" fill="#7570b3"/><rect x="103.15" y="319.45" width="3.7" height="3.7" fill="#444444"/><rect x="102.45" y="324.45" width="3.7" height="3.7" fill="#7570b3"/><rect x="113.85" y="326.45" width="3.7" height="3.7" fill="#7570b3"/><rect x="113.85" y="328.35" width="3.7" height="3.7" fill="#7570b3"/><rect x="106.85" y="330.55" width="3.7" height="3.7" fill="#7570b3"/><rect x="120.55" y="334.15" width="3.7" height="3.7" fill="#444444"/><rect x="116.85" y="336.95" width="3.7" height="3.7" fill="#7570b3"/><path d="M99.4 330.60V338.50M97.00 335.90L99.4 338.50L101.80 335.90" fill="none" stroke="#1b9e77" stroke-width="0.7" stroke-opacity="0.8"/><rect x="126.05" y="336.85" width="3.7" height="3.7" fill="#7570b3"/><rect x="161.65" y="312.05" width="3.7" height="3.7" fill="#7570b3"/><rect x="159.15" y="317.75" width="3.7" height="3.7" fill="#aaaaaa"/><rect x="139.35" y="315.95" width="3.7" height="3.7" fill="#7570b3"/><rect x="134.75" y="318.15" width="3.7" height="3.7" fill="#7570b3"/><rect x="138.15" y="318.15" width="3.7" height="3.7" fill="#444444"/><rect x="139.35" y="319.65" width="3.7" height="3.7" fill="#7570b3"/><rect x="142.95" y="318.55" width="3.7" height="3.7" fill="#d95f02"/><rect x="147.75" y="320.35" width="3.7" height="3.7" fill="#1b9e77"/><rect x="147.75" y="323.65" width="3.7" height="3.7" fill="#444444"/><rect x="142.15" y="323.65" width="3.7" height="3.7" fill="#d95f02"/><rect x="152.55" y="318.15" width="3.7" height="3.7" fill="#7570b3"/><rect x="154.75" y="320.35" width="3.7" height="3.7" fill="#7570b3"/><rect x="146.65" y="326.25" width="3.7" height="3.7" fill="#7570b3"/><rect x="152.95" y="326.25" width="3.7" height="3.7" fill="#7570b3"/><rect x="150.65" y="329.25" width="3.7" height="3.7" fill="#7570b3"/><rect x="141.05" y="328.85" width="3.7" height="3.7" fill="#444444"/><rect x="134.45" y="327.75" width="3.7" height="3.7" fill="#1b9e77"/><rect x="131.85" y="331.65" width="3.7" height="3.7" fill="#7570b3"/><rect x="136.25" y="331.65" width="3.7" height="3.7" fill="#444444"/><rect x="147.75" y="331.45" width="3.7" height="3.7" fill="#444444"/><rect x="139.55" y="334.15" width="3.7" height="3.7" fill="#7570b3"/><rect x="149.25" y="333.05" width="3.7" height="3.7" fill="#7570b3"/><rect x="124.65" y="338.15" width="3.7" height="3.7" fill="#7570b3"/><rect x="127.15" y="335.95" width="3.7" height="3.7" fill="#7570b3"/><path d="M99.4 337.40V345.30M97.00 342.70L99.4 345.30L101.80 342.70" fill="none" stroke="#7570b3" stroke-width="0.7" stroke-opacity="0.8"/><path d="M99.4 339.60V347.50M97.00 344.90L99.4 347.50L101.80 344.90" fill="none" stroke="#1b9e77" stroke-width="0.7" stroke-opacity="0.8"/><path d="M104.3 339.40V347.30M101.90 344.70L104.3 347.30L106.70 344.70" fill="none" stroke="#7570b3" stroke-width="0.7" stroke-opacity="0.8"/><rect x="102.45" y="347.55" width="3.7" height="3.7" fill="#7570b3"/><rect x="106.85" y="345.25" width="3.7" height="3.7" fill="#444444"/><rect x="106.85" y="350.05" width="3.7" height="3.7" fill="#444444"/><rect x="112.55" y="346.35" width="3.7" height="3.7" fill="#1b9e77"/><rect x="116.65" y="348.15" width="3.7" height="3.7" fill="#1b9e77"/><rect x="120.55" y="345.25" width="3.7" height="3.7" fill="#444444"/><rect x="128.15" y="343.75" width="3.7" height="3.7" fill="#1b9e77"/><rect x="128.15" y="347.45" width="3.7" height="3.7" fill="#d95f02"/><rect x="110.35" y="357.45" width="3.7" height="3.7" fill="#7570b3"/><rect x="97.55" y="362.85" width="3.7" height="3.7" fill="#7570b3"/><path d="M129.8 354.80V362.70M127.40 360.10L129.8 362.70L132.20 360.10" fill="none" stroke="#aaaaaa" stroke-width="0.7" stroke-opacity="0.8"/><path d="M126.8 361.40V369.30M124.40 366.70L126.8 369.30L129.20 366.70" fill="none" stroke="#7570b3" stroke-width="0.7" stroke-opacity="0.8"/><path d="M136.3 337.20V345.10M133.90 342.50L136.3 345.10L138.70 342.50" fill="none" stroke="#444444" stroke-width="0.7" stroke-opacity="0.8"/><rect x="134.45" y="342.85" width="3.7" height="3.7" fill="#444444"/><rect x="147.75" y="337.45" width="3.7" height="3.7" fill="#d95f02"/><rect x="145.85" y="339.25" width="3.7" height="3.7" fill="#444444"/><rect x="151.45" y="338.15" width="3.7" height="3.7" fill="#7570b3"/><rect x="141.05" y="345.95" width="3.7" height="3.7" fill="#1b9e77"/><rect x="147.75" y="348.75" width="3.7" height="3.7" fill="#d95f02"/><rect x="151.45" y="347.85" width="3.7" height="3.7" fill="#7570b3"/><rect x="154.75" y="346.65" width="3.7" height="3.7" fill="#d95f02"/><rect x="158.05" y="349.65" width="3.7" height="3.7" fill="#d95f02"/><rect x="150.65" y="351.55" width="3.7" height="3.7" fill="#444444"/><rect x="154.75" y="351.75" width="3.7" height="3.7" fill="#444444"/><rect x="147.35" y="354.85" width="3.7" height="3.7" fill="#444444"/><rect x="138.15" y="351.55" width="3.7" height="3.7" fill="#1b9e77"/><rect x="138.15" y="355.25" width="3.7" height="3.7" fill="#7570b3"/><rect x="133.25" y="353.75" width="3.7" height="3.7" fill="#d95f02"/><rect x="141.05" y="357.75" width="3.7" height="3.7" fill="#d95f02"/><rect x="135.15" y="359.25" width="3.7" height="3.7" fill="#1b9e77"/><rect x="134.45" y="363.75" width="3.7" height="3.7" fill="#7570b3"/><rect x="137.75" y="362.65" width="3.7" height="3.7" fill="#7570b3"/><rect x="151.45" y="358.95" width="3.7" height="3.7" fill="#1b9e77"/><rect x="152.15" y="360.75" width="3.7" height="3.7" fill="#1b9e77"/><rect x="154.75" y="359.25" width="3.7" height="3.7" fill="#444444"/><rect x="155.15" y="361.15" width="3.7" height="3.7" fill="#d95f02"/><rect x="127.95" y="364.85" width="3.7" height="3.7" fill="#1b9e77"/><rect x="147.35" y="365.15" width="3.7" height="3.7" fill="#d95f02"/><rect x="151.05" y="365.15" width="3.7" height="3.7" fill="#7570b3"/><rect x="164.65" y="314.95" width="3.7" height="3.7" fill="#7570b3"/><rect x="164.65" y="320.55" width="3.7" height="3.7" fill="#7570b3"/><rect x="165.15" y="328.15" width="3.7" height="3.7" fill="#444444"/><rect x="169.05" y="326.65" width="3.7" height="3.7" fill="#aaaaaa"/><rect x="176.15" y="331.25" width="3.7" height="3.7" fill="#aaaaaa"/><rect x="169.85" y="337.35" width="3.7" height="3.7" fill="#7570b3"/><rect x="175.65" y="353.25" width="3.7" height="3.7" fill="#7570b3"/><rect x="167.25" y="356.65" width="3.7" height="3.7" fill="#444444"/><path d="M182.1 355.80V363.70M179.70 361.10L182.1 363.70L184.50 361.10" fill="none" stroke="#aaaaaa" stroke-width="0.7" stroke-opacity="0.8"/><rect x="198.75" y="363.75" width="3.7" height="3.7" fill="#d95f02"/><rect x="210.65" y="364.35" width="3.7" height="3.7" fill="#7570b3"/><rect x="159.65" y="371.95" width="3.7" height="3.7" fill="#d95f02"/><rect x="161.95" y="371.35" width="3.7" height="3.7" fill="#d95f02"/><rect x="175.65" y="372.35" width="3.7" height="3.7" fill="#d95f02"/><rect x="186.75" y="373.15" width="3.7" height="3.7" fill="#d95f02"/><path d="M174.5 372.60V380.50M172.10 377.90L174.5 380.50L176.90 377.90" fill="none" stroke="#aaaaaa" stroke-width="0.7" stroke-opacity="0.8"/><rect x="161.45" y="378.95" width="3.7" height="3.7" fill="#1b9e77"/><rect x="164.95" y="381.25" width="3.7" height="3.7" fill="#d95f02"/><rect x="159.65" y="383.85" width="3.7" height="3.7" fill="#1b9e77"/><rect x="164.55" y="386.15" width="3.7" height="3.7" fill="#d95f02"/><rect x="162.45" y="390.35" width="3.7" height="3.7" fill="#aaaaaa"/><rect x="158.95" y="395.25" width="3.7" height="3.7" fill="#d95f02"/><rect x="168.35" y="393.75" width="3.7" height="3.7" fill="#aaaaaa"/><rect x="180.65" y="396.75" width="3.7" height="3.7" fill="#7570b3"/><rect x="207.15" y="387.95" width="3.7" height="3.7" fill="#7570b3"/><rect x="128.15" y="366.35" width="3.7" height="3.7" fill="#1b9e77"/><rect x="128.15" y="369.85" width="3.7" height="3.7" fill="#1b9e77"/><rect x="134.45" y="364.25" width="3.7" height="3.7" fill="#7570b3"/><rect x="137.35" y="363.85" width="3.7" height="3.7" fill="#7570b3"/><rect x="138.85" y="367.55" width="3.7" height="3.7" fill="#7570b3"/><path d="M145.9 364.80V372.70M143.50 370.10L145.9 372.70L148.30 370.10" fill="none" stroke="#7570b3" stroke-width="0.7" stroke-opacity="0.8"/><path d="M153.3 364.20V372.10M150.90 369.50L153.3 372.10L155.70 369.50" fill="none" stroke="#444444" stroke-width="0.7" stroke-opacity="0.8"/><rect x="125.55" y="374.65" width="3.7" height="3.7" fill="#7570b3"/><rect x="134.45" y="372.65" width="3.7" height="3.7" fill="#d95f02"/><rect x="141.05" y="373.35" width="3.7" height="3.7" fill="#d95f02"/><rect x="128.15" y="379.45" width="3.7" height="3.7" fill="#1b9e77"/><rect x="141.05" y="378.65" width="3.7" height="3.7" fill="#1b9e77"/><rect x="143.25" y="380.95" width="3.7" height="3.7" fill="#1b9e77"/><rect x="144.75" y="381.65" width="3.7" height="3.7" fill="#d95f02"/><rect x="135.85" y="382.25" width="3.7" height="3.7" fill="#d95f02"/><rect x="128.15" y="383.85" width="3.7" height="3.7" fill="#1b9e77"/><rect x="128.15" y="386.05" width="3.7" height="3.7" fill="#444444"/><rect x="141.05" y="387.95" width="3.7" height="3.7" fill="#1b9e77"/><path d="M157.3 377.40V385.30M154.90 382.70L157.3 385.30L159.70 382.70" fill="none" stroke="#aaaaaa" stroke-width="0.7" stroke-opacity="0.8"/><path d="M153.3 383.40V391.30M150.90 388.70L153.3 391.30L155.70 388.70" fill="none" stroke="#1b9e77" stroke-width="0.7" stroke-opacity="0.8"/><rect x="148.85" y="387.55" width="3.7" height="3.7" fill="#d95f02"/><rect x="154.75" y="386.85" width="3.7" height="3.7" fill="#d95f02"/><rect x="157.75" y="383.85" width="3.7" height="3.7" fill="#d95f02"/><path d="M150.5 388.40V396.30M148.10 393.70L150.5 396.30L152.90 393.70" fill="none" stroke="#1b9e77" stroke-width="0.7" stroke-opacity="0.8"/><rect x="138.15" y="395.75" width="3.7" height="3.7" fill="#1b9e77"/><rect x="151.05" y="397.15" width="3.7" height="3.7" fill="#d95f02"/><path d="M160.0 389.40V397.30M157.60 394.70L160.0 397.30L162.40 394.70" fill="none" stroke="#7570b3" stroke-width="0.7" stroke-opacity="0.8"/><rect x="104.95" y="367.25" width="3.7" height="3.7" fill="#444444"/><rect x="107.25" y="367.95" width="3.7" height="3.7" fill="#7570b3"/><path d="M99.4 369.50V377.40M97.00 374.80L99.4 377.40L101.80 374.80" fill="none" stroke="#7570b3" stroke-width="0.7" stroke-opacity="0.8"/><path d="M98.6 373.20V381.10M96.20 378.50L98.6 381.10L101.00 378.50" fill="none" stroke="#1b9e77" stroke-width="0.7" stroke-opacity="0.8"/><rect x="102.45" y="374.15" width="3.7" height="3.7" fill="#d95f02"/><rect x="109.55" y="380.75" width="3.7" height="3.7" fill="#1b9e77"/><path d="M115.0 377.40V385.30M112.60 382.70L115.0 385.30L117.40 382.70" fill="none" stroke="#1b9e77" stroke-width="0.7" stroke-opacity="0.8"/><path d="M113.9 380.20V388.10M111.50 385.50L113.9 388.10L116.30 385.50" fill="none" stroke="#1b9e77" stroke-width="0.7" stroke-opacity="0.8"/><rect x="108.35" y="387.95" width="3.7" height="3.7" fill="#7570b3"/><path d="M112.4 382.40V390.30M110.00 387.70L112.4 390.30L114.80 387.70" fill="none" stroke="#7570b3" stroke-width="0.7" stroke-opacity="0.8"/><path d="M99.4 385.40V393.30M97.00 390.70L99.4 393.30L101.80 390.70" fill="none" stroke="#7570b3" stroke-width="0.7" stroke-opacity="0.8"/><path d="M104.3 388.00V395.90M101.90 393.30L104.3 395.90L106.70 393.30" fill="none" stroke="#1b9e77" stroke-width="0.7" stroke-opacity="0.8"/><path d="M122.4 370.60V378.50M120.00 375.90L122.4 378.50L124.80 375.90" fill="none" stroke="#444444" stroke-width="0.7" stroke-opacity="0.8"/><path d="M122.4 374.00V381.90M120.00 379.30L122.4 381.90L124.80 379.30" fill="none" stroke="#444444" stroke-width="0.7" stroke-opacity="0.8"/><rect x="124.95" y="374.85" width="3.7" height="3.7" fill="#7570b3"/><rect x="120.55" y="384.25" width="3.7" height="3.7" fill="#444444"/><path d="M115.6 391.40V399.30M113.20 396.70L115.6 399.30L118.00 396.70" fill="none" stroke="#444444" stroke-width="0.7" stroke-opacity="0.8"/><path d="M125.7 393.20V401.10M123.30 398.50L125.7 401.10L128.10 398.50" fill="none" stroke="#aaaaaa" stroke-width="0.7" stroke-opacity="0.8"/><path d="M129.8 390.80V398.70M127.40 396.10L129.8 398.70L132.20 396.10" fill="none" stroke="#1b9e77" stroke-width="0.7" stroke-opacity="0.8"/><path d="M132.4 394.20V402.10M130.00 399.50L132.4 402.10L134.80 399.50" fill="none" stroke="#1b9e77" stroke-width="0.7" stroke-opacity="0.8"/><path d="M122.4 400.00V407.90M120.00 405.30L122.4 407.90L124.80 405.30" fill="none" stroke="#1b9e77" stroke-width="0.7" stroke-opacity="0.8"/><rect x="127.95" y="403.15" width="3.7" height="3.7" fill="#1b9e77"/><rect x="138.15" y="399.45" width="3.7" height="3.7" fill="#d95f02"/><rect x="138.15" y="403.45" width="3.7" height="3.7" fill="#1b9e77"/><rect x="138.15" y="407.95" width="3.7" height="3.7" fill="#d95f02"/><path d="M135.0 403.00V410.90M132.60 408.30L135.0 410.90L137.40 408.30" fill="none" stroke="#444444" stroke-width="0.7" stroke-opacity="0.8"/><path d="M136.5 408.80V416.70M134.10 414.10L136.5 416.70L138.90 414.10" fill="none" stroke="#1b9e77" stroke-width="0.7" stroke-opacity="0.8"/><path d="M137.4 409.40V417.30M135.00 414.70L137.4 417.30L139.80 414.70" fill="none" stroke="#1b9e77" stroke-width="0.7" stroke-opacity="0.8"/><path d="M135.7 410.80V418.70M133.30 416.10L135.7 418.70L138.10 416.10" fill="none" stroke="#d95f02" stroke-width="0.7" stroke-opacity="0.8"/><path d="M143.1 413.40V421.30M140.70 418.70L143.1 421.30L145.50 418.70" fill="none" stroke="#1b9e77" stroke-width="0.7" stroke-opacity="0.8"/><path d="M144.6 413.60V421.50M142.20 418.90L144.6 421.50L147.00 418.90" fill="none" stroke="#444444" stroke-width="0.7" stroke-opacity="0.8"/><rect x="155.45" y="417.95" width="3.7" height="3.7" fill="#aaaaaa"/><rect x="158.35" y="424.05" width="3.7" height="3.7" fill="#7570b3"/><rect x="151.25" y="397.35" width="3.7" height="3.7" fill="#d95f02"/><rect x="154.75" y="399.55" width="3.7" height="3.7" fill="#d95f02"/><path d="M164.6 433.20V441.10M162.20 438.50L164.6 441.10L167.00 438.50" fill="none" stroke="#aaaaaa" stroke-width="0.7" stroke-opacity="0.8"/><path d="M129.8 105.00V112.90M127.40 110.30L129.8 112.90L132.20 110.30" fill="none" stroke="#444444" stroke-width="0.7" stroke-opacity="0.8"/><rect x="159.65" y="383.85" width="3.7" height="3.7" fill="#1b9e77"/></svg></body></html>
